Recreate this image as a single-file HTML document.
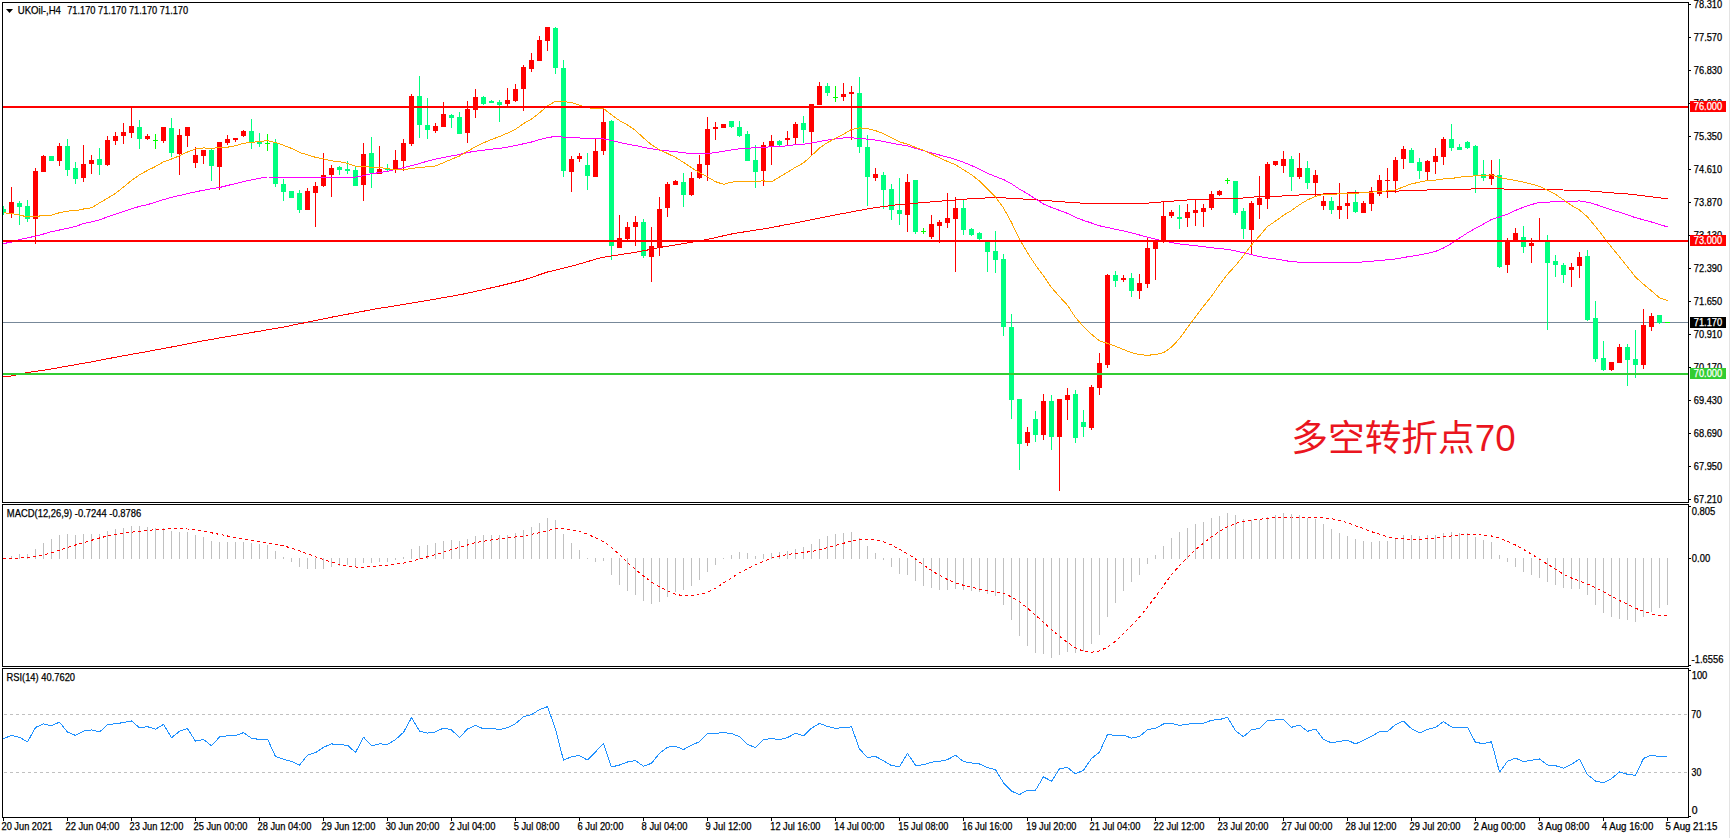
<!DOCTYPE html><html><head><meta charset="utf-8"><title>UKOil H4</title><style>html,body{margin:0;padding:0;background:#fff;overflow:hidden}svg{display:block}</style></head><body><svg width="1731" height="838" viewBox="0 0 1731 838" shape-rendering="crispEdges"><rect x="0" y="0" width="1731" height="838" fill="#fff"/><rect x="1729" y="0" width="1" height="838" fill="#e3e3e3"/><defs><clipPath id="cm"><rect x="3" y="3" width="1685" height="499"/></clipPath><clipPath id="cd"><rect x="3" y="505" width="1685" height="161"/></clipPath><clipPath id="cr"><rect x="3" y="669" width="1685" height="148"/></clipPath></defs><g clip-path="url(#cm)"><rect x="3" y="322" width="1685" height="1" fill="#778899"/><rect x="3" y="206" width="1" height="9" fill="#00ff7f"/><rect x="1" y="209" width="5" height="4" fill="#00ff7f"/><rect x="11" y="187" width="1" height="31" fill="#ff0000"/><rect x="9" y="202" width="5" height="11" fill="#ff0000"/><rect x="19" y="201" width="1" height="24" fill="#00ff7f"/><rect x="17" y="203" width="5" height="4" fill="#00ff7f"/><rect x="27" y="200" width="1" height="22" fill="#00ff7f"/><rect x="25" y="206" width="5" height="13" fill="#00ff7f"/><rect x="35" y="168" width="1" height="76" fill="#ff0000"/><rect x="33" y="171" width="5" height="48" fill="#ff0000"/><rect x="43" y="155" width="1" height="17" fill="#ff0000"/><rect x="41" y="156" width="5" height="16" fill="#ff0000"/><rect x="51" y="156" width="1" height="5" fill="#00ff7f"/><rect x="49" y="156" width="5" height="5" fill="#00ff7f"/><rect x="59" y="143" width="1" height="23" fill="#ff0000"/><rect x="57" y="146" width="5" height="15" fill="#ff0000"/><rect x="67" y="139" width="1" height="37" fill="#00ff7f"/><rect x="65" y="146" width="5" height="24" fill="#00ff7f"/><rect x="75" y="162" width="1" height="22" fill="#00ff7f"/><rect x="73" y="168" width="5" height="11" fill="#00ff7f"/><rect x="83" y="145" width="1" height="37" fill="#ff0000"/><rect x="81" y="164" width="5" height="14" fill="#ff0000"/><rect x="91" y="155" width="1" height="19" fill="#ff0000"/><rect x="89" y="160" width="5" height="4" fill="#ff0000"/><rect x="99" y="148" width="1" height="27" fill="#00ff7f"/><rect x="97" y="159" width="5" height="6" fill="#00ff7f"/><rect x="107" y="136" width="1" height="30" fill="#ff0000"/><rect x="105" y="140" width="5" height="25" fill="#ff0000"/><rect x="115" y="132" width="1" height="13" fill="#ff0000"/><rect x="113" y="136" width="5" height="5" fill="#ff0000"/><rect x="123" y="123" width="1" height="21" fill="#ff0000"/><rect x="121" y="132" width="5" height="4" fill="#ff0000"/><rect x="131" y="107" width="1" height="31" fill="#ff0000"/><rect x="129" y="126" width="5" height="7" fill="#ff0000"/><rect x="139" y="120" width="1" height="29" fill="#00ff7f"/><rect x="137" y="127" width="5" height="12" fill="#00ff7f"/><rect x="147" y="134" width="1" height="6" fill="#ff0000"/><rect x="145" y="136" width="5" height="3" fill="#ff0000"/><rect x="155" y="134" width="1" height="15" fill="#00ff00"/><rect x="153" y="140" width="5" height="1" fill="#00ff00"/><rect x="163" y="127" width="1" height="16" fill="#ff0000"/><rect x="161" y="127" width="5" height="14" fill="#ff0000"/><rect x="171" y="118" width="1" height="39" fill="#00ff7f"/><rect x="169" y="128" width="5" height="25" fill="#00ff7f"/><rect x="179" y="129" width="1" height="46" fill="#ff0000"/><rect x="177" y="135" width="5" height="19" fill="#ff0000"/><rect x="187" y="127" width="1" height="20" fill="#ff0000"/><rect x="185" y="127" width="5" height="9" fill="#ff0000"/><rect x="195" y="147" width="1" height="21" fill="#ff0000"/><rect x="193" y="155" width="5" height="8" fill="#ff0000"/><rect x="203" y="150" width="1" height="14" fill="#ff0000"/><rect x="201" y="150" width="5" height="6" fill="#ff0000"/><rect x="211" y="149" width="1" height="32" fill="#00ff7f"/><rect x="209" y="150" width="5" height="16" fill="#00ff7f"/><rect x="219" y="142" width="1" height="48" fill="#ff0000"/><rect x="217" y="142" width="5" height="25" fill="#ff0000"/><rect x="227" y="135" width="1" height="10" fill="#ff0000"/><rect x="225" y="139" width="5" height="4" fill="#ff0000"/><rect x="235" y="138" width="1" height="4" fill="#ff0000"/><rect x="233" y="138" width="5" height="2" fill="#ff0000"/><rect x="243" y="130" width="1" height="7" fill="#ff0000"/><rect x="241" y="131" width="5" height="5" fill="#ff0000"/><rect x="251" y="119" width="1" height="30" fill="#00ff7f"/><rect x="249" y="131" width="5" height="11" fill="#00ff7f"/><rect x="259" y="133" width="1" height="14" fill="#00ff7f"/><rect x="257" y="142" width="5" height="2" fill="#00ff7f"/><rect x="267" y="134" width="1" height="17" fill="#00ff00"/><rect x="265" y="143" width="5" height="1" fill="#00ff00"/><rect x="275" y="139" width="1" height="48" fill="#00ff7f"/><rect x="273" y="143" width="5" height="41" fill="#00ff7f"/><rect x="283" y="179" width="1" height="22" fill="#00ff7f"/><rect x="281" y="184" width="5" height="8" fill="#00ff7f"/><rect x="291" y="191" width="1" height="7" fill="#00ff7f"/><rect x="289" y="191" width="5" height="7" fill="#00ff7f"/><rect x="299" y="190" width="1" height="23" fill="#00ff7f"/><rect x="297" y="193" width="5" height="17" fill="#00ff7f"/><rect x="307" y="188" width="1" height="22" fill="#ff0000"/><rect x="305" y="191" width="5" height="19" fill="#ff0000"/><rect x="315" y="182" width="1" height="45" fill="#ff0000"/><rect x="313" y="186" width="5" height="7" fill="#ff0000"/><rect x="323" y="153" width="1" height="34" fill="#ff0000"/><rect x="321" y="175" width="5" height="11" fill="#ff0000"/><rect x="331" y="165" width="1" height="32" fill="#ff0000"/><rect x="329" y="168" width="5" height="7" fill="#ff0000"/><rect x="339" y="166" width="1" height="9" fill="#00ff7f"/><rect x="337" y="167" width="5" height="3" fill="#00ff7f"/><rect x="347" y="161" width="1" height="13" fill="#00ff7f"/><rect x="345" y="169" width="5" height="2" fill="#00ff7f"/><rect x="355" y="166" width="1" height="20" fill="#00ff7f"/><rect x="353" y="170" width="5" height="16" fill="#00ff7f"/><rect x="363" y="143" width="1" height="58" fill="#ff0000"/><rect x="361" y="154" width="5" height="31" fill="#ff0000"/><rect x="371" y="137" width="1" height="51" fill="#00ff7f"/><rect x="369" y="153" width="5" height="20" fill="#00ff7f"/><rect x="379" y="146" width="1" height="28" fill="#ff0000"/><rect x="377" y="169" width="5" height="5" fill="#ff0000"/><rect x="387" y="164" width="1" height="7" fill="#00ff7f"/><rect x="385" y="168" width="5" height="2" fill="#00ff7f"/><rect x="395" y="150" width="1" height="23" fill="#ff0000"/><rect x="393" y="160" width="5" height="9" fill="#ff0000"/><rect x="403" y="139" width="1" height="32" fill="#ff0000"/><rect x="401" y="143" width="5" height="18" fill="#ff0000"/><rect x="411" y="94" width="1" height="52" fill="#ff0000"/><rect x="409" y="96" width="5" height="48" fill="#ff0000"/><rect x="419" y="76" width="1" height="62" fill="#00ff7f"/><rect x="417" y="96" width="5" height="29" fill="#00ff7f"/><rect x="427" y="98" width="1" height="41" fill="#00ff7f"/><rect x="425" y="125" width="5" height="5" fill="#00ff7f"/><rect x="435" y="123" width="1" height="10" fill="#ff0000"/><rect x="433" y="126" width="5" height="5" fill="#ff0000"/><rect x="443" y="102" width="1" height="25" fill="#ff0000"/><rect x="441" y="114" width="5" height="13" fill="#ff0000"/><rect x="451" y="114" width="1" height="14" fill="#00ff7f"/><rect x="449" y="115" width="5" height="3" fill="#00ff7f"/><rect x="459" y="112" width="1" height="22" fill="#00ff7f"/><rect x="457" y="117" width="5" height="17" fill="#00ff7f"/><rect x="467" y="101" width="1" height="42" fill="#ff0000"/><rect x="465" y="109" width="5" height="24" fill="#ff0000"/><rect x="475" y="89" width="1" height="29" fill="#ff0000"/><rect x="473" y="97" width="5" height="13" fill="#ff0000"/><rect x="483" y="96" width="1" height="9" fill="#00ff7f"/><rect x="481" y="97" width="5" height="7" fill="#00ff7f"/><rect x="491" y="100" width="1" height="3" fill="#00ff7f"/><rect x="489" y="101" width="5" height="2" fill="#00ff7f"/><rect x="499" y="100" width="1" height="22" fill="#00ff7f"/><rect x="497" y="102" width="5" height="3" fill="#00ff7f"/><rect x="507" y="88" width="1" height="18" fill="#ff0000"/><rect x="505" y="100" width="5" height="4" fill="#ff0000"/><rect x="515" y="84" width="1" height="18" fill="#ff0000"/><rect x="513" y="89" width="5" height="12" fill="#ff0000"/><rect x="523" y="65" width="1" height="46" fill="#ff0000"/><rect x="521" y="67" width="5" height="22" fill="#ff0000"/><rect x="531" y="53" width="1" height="19" fill="#ff0000"/><rect x="529" y="60" width="5" height="9" fill="#ff0000"/><rect x="539" y="36" width="1" height="25" fill="#ff0000"/><rect x="537" y="40" width="5" height="21" fill="#ff0000"/><rect x="547" y="27" width="1" height="24" fill="#ff0000"/><rect x="545" y="27" width="5" height="14" fill="#ff0000"/><rect x="555" y="27" width="1" height="47" fill="#00ff7f"/><rect x="553" y="28" width="5" height="40" fill="#00ff7f"/><rect x="563" y="60" width="1" height="117" fill="#00ff7f"/><rect x="561" y="68" width="5" height="103" fill="#00ff7f"/><rect x="571" y="156" width="1" height="36" fill="#ff0000"/><rect x="569" y="159" width="5" height="13" fill="#ff0000"/><rect x="579" y="153" width="1" height="9" fill="#ff0000"/><rect x="577" y="156" width="5" height="3" fill="#ff0000"/><rect x="587" y="153" width="1" height="37" fill="#00ff7f"/><rect x="585" y="165" width="5" height="11" fill="#00ff7f"/><rect x="595" y="139" width="1" height="38" fill="#ff0000"/><rect x="593" y="151" width="5" height="26" fill="#ff0000"/><rect x="603" y="108" width="1" height="47" fill="#ff0000"/><rect x="601" y="122" width="5" height="29" fill="#ff0000"/><rect x="611" y="120" width="1" height="140" fill="#00ff7f"/><rect x="609" y="121" width="5" height="125" fill="#00ff7f"/><rect x="619" y="215" width="1" height="33" fill="#ff0000"/><rect x="617" y="238" width="5" height="10" fill="#ff0000"/><rect x="627" y="222" width="1" height="18" fill="#ff0000"/><rect x="625" y="227" width="5" height="12" fill="#ff0000"/><rect x="635" y="216" width="1" height="30" fill="#ff0000"/><rect x="633" y="222" width="5" height="5" fill="#ff0000"/><rect x="643" y="219" width="1" height="39" fill="#00ff7f"/><rect x="641" y="222" width="5" height="34" fill="#00ff7f"/><rect x="651" y="227" width="1" height="55" fill="#ff0000"/><rect x="649" y="246" width="5" height="11" fill="#ff0000"/><rect x="659" y="197" width="1" height="59" fill="#ff0000"/><rect x="657" y="209" width="5" height="38" fill="#ff0000"/><rect x="667" y="182" width="1" height="35" fill="#ff0000"/><rect x="665" y="184" width="5" height="24" fill="#ff0000"/><rect x="675" y="180" width="1" height="5" fill="#ff0000"/><rect x="673" y="181" width="5" height="4" fill="#ff0000"/><rect x="683" y="173" width="1" height="34" fill="#00ff7f"/><rect x="681" y="182" width="5" height="13" fill="#00ff7f"/><rect x="691" y="172" width="1" height="24" fill="#ff0000"/><rect x="689" y="178" width="5" height="17" fill="#ff0000"/><rect x="699" y="155" width="1" height="24" fill="#ff0000"/><rect x="697" y="164" width="5" height="14" fill="#ff0000"/><rect x="707" y="117" width="1" height="64" fill="#ff0000"/><rect x="705" y="129" width="5" height="36" fill="#ff0000"/><rect x="715" y="122" width="1" height="18" fill="#ff0000"/><rect x="713" y="127" width="5" height="2" fill="#ff0000"/><rect x="723" y="124" width="1" height="4" fill="#ff0000"/><rect x="721" y="124" width="5" height="4" fill="#ff0000"/><rect x="731" y="121" width="1" height="7" fill="#00ff7f"/><rect x="729" y="121" width="5" height="6" fill="#00ff7f"/><rect x="739" y="121" width="1" height="16" fill="#00ff7f"/><rect x="737" y="127" width="5" height="9" fill="#00ff7f"/><rect x="747" y="131" width="1" height="30" fill="#00ff7f"/><rect x="745" y="134" width="5" height="27" fill="#00ff7f"/><rect x="755" y="145" width="1" height="43" fill="#00ff7f"/><rect x="753" y="160" width="5" height="12" fill="#00ff7f"/><rect x="763" y="142" width="1" height="44" fill="#ff0000"/><rect x="761" y="145" width="5" height="26" fill="#ff0000"/><rect x="771" y="135" width="1" height="30" fill="#ff0000"/><rect x="769" y="141" width="5" height="5" fill="#ff0000"/><rect x="779" y="140" width="1" height="6" fill="#00ff7f"/><rect x="777" y="141" width="5" height="4" fill="#00ff7f"/><rect x="787" y="131" width="1" height="14" fill="#ff0000"/><rect x="785" y="138" width="5" height="2" fill="#ff0000"/><rect x="795" y="122" width="1" height="22" fill="#ff0000"/><rect x="793" y="124" width="5" height="14" fill="#ff0000"/><rect x="803" y="116" width="1" height="27" fill="#00ff7f"/><rect x="801" y="123" width="5" height="7" fill="#00ff7f"/><rect x="811" y="104" width="1" height="52" fill="#ff0000"/><rect x="809" y="104" width="5" height="28" fill="#ff0000"/><rect x="819" y="82" width="1" height="23" fill="#ff0000"/><rect x="817" y="86" width="5" height="19" fill="#ff0000"/><rect x="827" y="83" width="1" height="13" fill="#00ff7f"/><rect x="825" y="86" width="5" height="7" fill="#00ff7f"/><rect x="835" y="86" width="1" height="16" fill="#00ff00"/><rect x="833" y="97" width="5" height="1" fill="#00ff00"/><rect x="843" y="83" width="1" height="18" fill="#ff0000"/><rect x="841" y="94" width="5" height="3" fill="#ff0000"/><rect x="851" y="86" width="1" height="54" fill="#ff0000"/><rect x="849" y="92" width="5" height="2" fill="#ff0000"/><rect x="859" y="77" width="1" height="76" fill="#00ff7f"/><rect x="857" y="93" width="5" height="54" fill="#00ff7f"/><rect x="867" y="135" width="1" height="71" fill="#00ff7f"/><rect x="865" y="147" width="5" height="30" fill="#00ff7f"/><rect x="875" y="168" width="1" height="13" fill="#ff0000"/><rect x="873" y="174" width="5" height="4" fill="#ff0000"/><rect x="883" y="172" width="1" height="37" fill="#00ff7f"/><rect x="881" y="175" width="5" height="15" fill="#00ff7f"/><rect x="891" y="184" width="1" height="36" fill="#00ff7f"/><rect x="889" y="189" width="5" height="21" fill="#00ff7f"/><rect x="899" y="178" width="1" height="47" fill="#00ff7f"/><rect x="897" y="210" width="5" height="4" fill="#00ff7f"/><rect x="907" y="174" width="1" height="58" fill="#ff0000"/><rect x="905" y="182" width="5" height="33" fill="#ff0000"/><rect x="915" y="180" width="1" height="54" fill="#00ff7f"/><rect x="913" y="180" width="5" height="52" fill="#00ff7f"/><rect x="923" y="228" width="1" height="6" fill="#00ff00"/><rect x="921" y="231" width="5" height="1" fill="#00ff00"/><rect x="931" y="215" width="1" height="24" fill="#ff0000"/><rect x="929" y="224" width="5" height="13" fill="#ff0000"/><rect x="939" y="220" width="1" height="23" fill="#ff0000"/><rect x="937" y="222" width="5" height="4" fill="#ff0000"/><rect x="947" y="193" width="1" height="35" fill="#ff0000"/><rect x="945" y="218" width="5" height="5" fill="#ff0000"/><rect x="955" y="197" width="1" height="75" fill="#ff0000"/><rect x="953" y="208" width="5" height="11" fill="#ff0000"/><rect x="963" y="200" width="1" height="35" fill="#00ff7f"/><rect x="961" y="208" width="5" height="22" fill="#00ff7f"/><rect x="971" y="228" width="1" height="8" fill="#00ff7f"/><rect x="969" y="229" width="5" height="6" fill="#00ff7f"/><rect x="979" y="232" width="1" height="10" fill="#00ff7f"/><rect x="977" y="233" width="5" height="6" fill="#00ff7f"/><rect x="987" y="242" width="1" height="30" fill="#00ff7f"/><rect x="985" y="242" width="5" height="10" fill="#00ff7f"/><rect x="995" y="231" width="1" height="42" fill="#00ff7f"/><rect x="993" y="251" width="5" height="9" fill="#00ff7f"/><rect x="1003" y="254" width="1" height="82" fill="#00ff7f"/><rect x="1001" y="259" width="5" height="68" fill="#00ff7f"/><rect x="1011" y="314" width="1" height="105" fill="#00ff7f"/><rect x="1009" y="327" width="5" height="73" fill="#00ff7f"/><rect x="1019" y="399" width="1" height="71" fill="#00ff7f"/><rect x="1017" y="399" width="5" height="45" fill="#00ff7f"/><rect x="1027" y="427" width="1" height="19" fill="#ff0000"/><rect x="1025" y="432" width="5" height="11" fill="#ff0000"/><rect x="1035" y="411" width="1" height="31" fill="#00ff7f"/><rect x="1033" y="419" width="5" height="16" fill="#00ff7f"/><rect x="1043" y="394" width="1" height="46" fill="#ff0000"/><rect x="1041" y="401" width="5" height="34" fill="#ff0000"/><rect x="1051" y="395" width="1" height="55" fill="#00ff7f"/><rect x="1049" y="401" width="5" height="36" fill="#00ff7f"/><rect x="1059" y="399" width="1" height="92" fill="#ff0000"/><rect x="1057" y="399" width="5" height="38" fill="#ff0000"/><rect x="1067" y="388" width="1" height="32" fill="#ff0000"/><rect x="1065" y="395" width="5" height="5" fill="#ff0000"/><rect x="1075" y="390" width="1" height="53" fill="#00ff7f"/><rect x="1073" y="394" width="5" height="44" fill="#00ff7f"/><rect x="1083" y="410" width="1" height="27" fill="#00ff7f"/><rect x="1081" y="422" width="5" height="5" fill="#00ff7f"/><rect x="1091" y="385" width="1" height="45" fill="#ff0000"/><rect x="1089" y="387" width="5" height="41" fill="#ff0000"/><rect x="1099" y="353" width="1" height="42" fill="#ff0000"/><rect x="1097" y="363" width="5" height="25" fill="#ff0000"/><rect x="1107" y="274" width="1" height="94" fill="#ff0000"/><rect x="1105" y="275" width="5" height="90" fill="#ff0000"/><rect x="1115" y="271" width="1" height="16" fill="#00ff7f"/><rect x="1113" y="275" width="5" height="6" fill="#00ff7f"/><rect x="1123" y="275" width="1" height="7" fill="#ff0000"/><rect x="1121" y="278" width="5" height="2" fill="#ff0000"/><rect x="1131" y="273" width="1" height="24" fill="#00ff7f"/><rect x="1129" y="278" width="5" height="13" fill="#00ff7f"/><rect x="1139" y="274" width="1" height="25" fill="#ff0000"/><rect x="1137" y="283" width="5" height="8" fill="#ff0000"/><rect x="1147" y="238" width="1" height="50" fill="#ff0000"/><rect x="1145" y="248" width="5" height="36" fill="#ff0000"/><rect x="1155" y="241" width="1" height="39" fill="#ff0000"/><rect x="1153" y="241" width="5" height="8" fill="#ff0000"/><rect x="1163" y="202" width="1" height="41" fill="#ff0000"/><rect x="1161" y="216" width="5" height="25" fill="#ff0000"/><rect x="1171" y="210" width="1" height="8" fill="#ff0000"/><rect x="1169" y="212" width="5" height="4" fill="#ff0000"/><rect x="1179" y="205" width="1" height="24" fill="#00ff7f"/><rect x="1177" y="217" width="5" height="2" fill="#00ff7f"/><rect x="1187" y="204" width="1" height="23" fill="#ff0000"/><rect x="1185" y="212" width="5" height="6" fill="#ff0000"/><rect x="1195" y="199" width="1" height="27" fill="#ff0000"/><rect x="1193" y="210" width="5" height="3" fill="#ff0000"/><rect x="1203" y="204" width="1" height="23" fill="#ff0000"/><rect x="1201" y="208" width="5" height="4" fill="#ff0000"/><rect x="1211" y="191" width="1" height="19" fill="#ff0000"/><rect x="1209" y="194" width="5" height="14" fill="#ff0000"/><rect x="1219" y="190" width="1" height="6" fill="#ff0000"/><rect x="1217" y="191" width="5" height="4" fill="#ff0000"/><rect x="1227" y="178" width="1" height="6" fill="#00ff00"/><rect x="1225" y="180" width="5" height="1" fill="#00ff00"/><rect x="1235" y="181" width="1" height="34" fill="#00ff7f"/><rect x="1233" y="181" width="5" height="32" fill="#00ff7f"/><rect x="1243" y="208" width="1" height="31" fill="#00ff7f"/><rect x="1241" y="211" width="5" height="18" fill="#00ff7f"/><rect x="1251" y="201" width="1" height="53" fill="#ff0000"/><rect x="1249" y="203" width="5" height="27" fill="#ff0000"/><rect x="1259" y="176" width="1" height="43" fill="#ff0000"/><rect x="1257" y="198" width="5" height="7" fill="#ff0000"/><rect x="1267" y="162" width="1" height="47" fill="#ff0000"/><rect x="1265" y="164" width="5" height="35" fill="#ff0000"/><rect x="1275" y="161" width="1" height="5" fill="#ff0000"/><rect x="1273" y="161" width="5" height="4" fill="#ff0000"/><rect x="1283" y="151" width="1" height="22" fill="#ff0000"/><rect x="1281" y="159" width="5" height="7" fill="#ff0000"/><rect x="1291" y="156" width="1" height="35" fill="#00ff7f"/><rect x="1289" y="159" width="5" height="18" fill="#00ff7f"/><rect x="1299" y="153" width="1" height="26" fill="#ff0000"/><rect x="1297" y="168" width="5" height="9" fill="#ff0000"/><rect x="1307" y="161" width="1" height="28" fill="#00ff7f"/><rect x="1305" y="168" width="5" height="15" fill="#00ff7f"/><rect x="1315" y="170" width="1" height="26" fill="#ff0000"/><rect x="1313" y="175" width="5" height="8" fill="#ff0000"/><rect x="1323" y="196" width="1" height="14" fill="#ff0000"/><rect x="1321" y="201" width="5" height="5" fill="#ff0000"/><rect x="1331" y="197" width="1" height="17" fill="#00ff7f"/><rect x="1329" y="201" width="5" height="9" fill="#00ff7f"/><rect x="1339" y="183" width="1" height="36" fill="#ff0000"/><rect x="1337" y="206" width="5" height="4" fill="#ff0000"/><rect x="1347" y="194" width="1" height="25" fill="#ff0000"/><rect x="1345" y="203" width="5" height="3" fill="#ff0000"/><rect x="1355" y="190" width="1" height="23" fill="#00ff7f"/><rect x="1353" y="202" width="5" height="10" fill="#00ff7f"/><rect x="1363" y="201" width="1" height="12" fill="#ff0000"/><rect x="1361" y="203" width="5" height="10" fill="#ff0000"/><rect x="1371" y="187" width="1" height="24" fill="#ff0000"/><rect x="1369" y="193" width="5" height="11" fill="#ff0000"/><rect x="1379" y="175" width="1" height="21" fill="#ff0000"/><rect x="1377" y="180" width="5" height="14" fill="#ff0000"/><rect x="1387" y="168" width="1" height="30" fill="#ff0000"/><rect x="1385" y="180" width="5" height="1" fill="#ff0000"/><rect x="1395" y="157" width="1" height="36" fill="#ff0000"/><rect x="1393" y="160" width="5" height="21" fill="#ff0000"/><rect x="1403" y="146" width="1" height="23" fill="#ff0000"/><rect x="1401" y="149" width="5" height="10" fill="#ff0000"/><rect x="1411" y="148" width="1" height="15" fill="#00ff7f"/><rect x="1409" y="150" width="5" height="13" fill="#00ff7f"/><rect x="1419" y="158" width="1" height="21" fill="#00ff7f"/><rect x="1417" y="162" width="5" height="9" fill="#00ff7f"/><rect x="1427" y="160" width="1" height="20" fill="#ff0000"/><rect x="1425" y="161" width="5" height="11" fill="#ff0000"/><rect x="1435" y="148" width="1" height="26" fill="#ff0000"/><rect x="1433" y="156" width="5" height="6" fill="#ff0000"/><rect x="1443" y="137" width="1" height="28" fill="#ff0000"/><rect x="1441" y="139" width="5" height="18" fill="#ff0000"/><rect x="1451" y="124" width="1" height="27" fill="#00ff7f"/><rect x="1449" y="139" width="5" height="9" fill="#00ff7f"/><rect x="1459" y="144" width="1" height="6" fill="#00ff7f"/><rect x="1457" y="147" width="5" height="3" fill="#00ff7f"/><rect x="1467" y="141" width="1" height="8" fill="#00ff7f"/><rect x="1465" y="142" width="5" height="6" fill="#00ff7f"/><rect x="1475" y="145" width="1" height="48" fill="#00ff7f"/><rect x="1473" y="146" width="5" height="29" fill="#00ff7f"/><rect x="1483" y="160" width="1" height="21" fill="#00ff7f"/><rect x="1481" y="174" width="5" height="4" fill="#00ff7f"/><rect x="1491" y="160" width="1" height="25" fill="#ff0000"/><rect x="1489" y="174" width="5" height="5" fill="#ff0000"/><rect x="1499" y="159" width="1" height="109" fill="#00ff7f"/><rect x="1497" y="175" width="5" height="92" fill="#00ff7f"/><rect x="1507" y="238" width="1" height="35" fill="#ff0000"/><rect x="1505" y="241" width="5" height="24" fill="#ff0000"/><rect x="1515" y="228" width="1" height="14" fill="#ff0000"/><rect x="1513" y="233" width="5" height="9" fill="#ff0000"/><rect x="1523" y="226" width="1" height="27" fill="#00ff7f"/><rect x="1521" y="237" width="5" height="10" fill="#00ff7f"/><rect x="1531" y="238" width="1" height="25" fill="#ff0000"/><rect x="1529" y="243" width="5" height="3" fill="#ff0000"/><rect x="1539" y="218" width="1" height="24" fill="#ff0000"/><rect x="1537" y="241" width="5" height="1" fill="#ff0000"/><rect x="1547" y="235" width="1" height="95" fill="#00ff7f"/><rect x="1545" y="242" width="5" height="21" fill="#00ff7f"/><rect x="1555" y="255" width="1" height="22" fill="#00ff7f"/><rect x="1553" y="261" width="5" height="4" fill="#00ff7f"/><rect x="1563" y="263" width="1" height="20" fill="#00ff7f"/><rect x="1561" y="265" width="5" height="10" fill="#00ff7f"/><rect x="1571" y="263" width="1" height="24" fill="#ff0000"/><rect x="1569" y="267" width="5" height="3" fill="#ff0000"/><rect x="1579" y="252" width="1" height="26" fill="#ff0000"/><rect x="1577" y="257" width="5" height="9" fill="#ff0000"/><rect x="1587" y="250" width="1" height="71" fill="#00ff7f"/><rect x="1585" y="256" width="5" height="64" fill="#00ff7f"/><rect x="1595" y="301" width="1" height="61" fill="#00ff7f"/><rect x="1593" y="318" width="5" height="41" fill="#00ff7f"/><rect x="1603" y="341" width="1" height="30" fill="#00ff7f"/><rect x="1601" y="358" width="5" height="12" fill="#00ff7f"/><rect x="1611" y="362" width="1" height="9" fill="#ff0000"/><rect x="1609" y="362" width="5" height="8" fill="#ff0000"/><rect x="1619" y="344" width="1" height="19" fill="#ff0000"/><rect x="1617" y="347" width="5" height="16" fill="#ff0000"/><rect x="1627" y="344" width="1" height="42" fill="#00ff7f"/><rect x="1625" y="347" width="5" height="13" fill="#00ff7f"/><rect x="1635" y="330" width="1" height="48" fill="#00ff7f"/><rect x="1633" y="359" width="5" height="6" fill="#00ff7f"/><rect x="1643" y="309" width="1" height="60" fill="#ff0000"/><rect x="1641" y="325" width="5" height="40" fill="#ff0000"/><rect x="1651" y="313" width="1" height="18" fill="#ff0000"/><rect x="1649" y="316" width="5" height="11" fill="#ff0000"/><rect x="1659" y="315" width="1" height="9" fill="#00ff7f"/><rect x="1657" y="315" width="5" height="8" fill="#00ff7f"/><rect x="1665" y="322" width="5" height="1" fill="#00ff00"/></g><g clip-path="url(#cm)"><polyline points="3.5,376.9 11.5,376.0 19.5,374.1 27.5,372.5 35.5,371.4 43.5,370.2 51.5,368.9 59.5,367.5 67.5,366.1 75.5,364.7 83.5,363.3 91.5,361.9 99.5,360.4 107.5,358.8 115.5,357.2 123.5,355.8 131.5,354.3 139.5,352.9 147.5,351.5 155.5,350.0 163.5,348.6 171.5,347.0 179.5,345.5 187.5,343.9 195.5,342.2 203.5,340.8 211.5,339.4 219.5,338.0 227.5,336.6 235.5,335.2 243.5,333.9 251.5,332.5 259.5,331.2 267.5,329.8 275.5,328.4 283.5,327.1 291.5,325.4 299.5,323.8 307.5,322.2 315.5,320.5 323.5,318.9 331.5,317.2 339.5,315.7 347.5,314.2 355.5,312.7 363.5,311.2 371.5,309.7 379.5,308.3 387.5,307.1 395.5,305.8 403.5,304.5 411.5,303.1 419.5,301.8 427.5,300.5 435.5,299.1 443.5,297.6 451.5,296.2 459.5,294.8 467.5,293.2 475.5,291.4 483.5,289.6 491.5,287.8 499.5,286.0 507.5,284.0 515.5,282.0 523.5,280.0 531.5,277.4 539.5,274.7 547.5,272.0 555.5,270.1 563.5,268.1 571.5,266.2 579.5,263.9 587.5,261.6 595.5,259.2 603.5,257.2 611.5,256.0 619.5,254.8 627.5,253.5 635.5,252.3 643.5,250.8 651.5,249.2 659.5,247.5 667.5,246.2 675.5,244.9 683.5,243.6 691.5,242.3 699.5,241.0 707.5,239.4 715.5,237.6 723.5,235.8 731.5,234.0 739.5,232.6 747.5,231.4 755.5,230.1 763.5,228.9 771.5,227.6 779.5,226.0 787.5,224.4 795.5,222.9 803.5,221.3 811.5,219.7 819.5,218.1 827.5,216.5 835.5,214.9 843.5,213.4 851.5,211.9 859.5,210.4 867.5,209.0 875.5,207.6 883.5,206.6 891.5,205.5 899.5,204.5 907.5,203.9 915.5,203.2 923.5,202.6 931.5,201.9 939.5,201.2 947.5,200.6 955.5,200.0 963.5,199.3 971.5,198.7 979.5,198.3 987.5,197.9 995.5,197.9 1003.5,197.9 1011.5,198.2 1019.5,198.8 1027.5,199.3 1035.5,199.8 1043.5,200.4 1051.5,201.0 1059.5,201.6 1067.5,202.2 1075.5,202.7 1083.5,203.3 1091.5,203.7 1099.5,203.8 1107.5,203.8 1115.5,203.9 1123.5,203.9 1131.5,204.0 1139.5,203.8 1147.5,203.2 1155.5,202.4 1163.5,201.8 1171.5,201.2 1179.5,200.6 1187.5,200.0 1195.5,199.5 1203.5,199.2 1211.5,199.0 1219.5,198.8 1227.5,198.9 1235.5,198.8 1243.5,198.0 1251.5,197.1 1259.5,196.8 1267.5,196.7 1275.5,196.6 1283.5,195.9 1291.5,195.3 1299.5,195.0 1307.5,194.7 1315.5,194.4 1323.5,194.0 1331.5,193.7 1339.5,193.3 1347.5,193.0 1355.5,192.6 1363.5,192.2 1371.5,191.9 1379.5,191.7 1387.5,191.4 1395.5,191.2 1403.5,190.8 1411.5,190.5 1419.5,190.2 1427.5,190.0 1435.5,189.7 1443.5,189.5 1451.5,189.4 1459.5,189.2 1467.5,189.1 1475.5,188.9 1483.5,188.7 1491.5,188.6 1499.5,188.8 1507.5,189.2 1515.5,189.7 1523.5,189.7 1531.5,189.8 1539.5,189.8 1547.5,189.8 1555.5,189.9 1563.5,190.0 1571.5,190.2 1579.5,190.4 1587.5,190.8 1595.5,191.5 1603.5,192.1 1611.5,192.8 1619.5,193.4 1627.5,194.0 1635.5,194.8 1643.5,195.8 1651.5,196.8 1659.5,197.8 1667.5,198.8" fill="none" stroke="#ff0000" stroke-width="1" stroke-linejoin="bevel" /><polyline points="3.5,243.5 11.5,242.2 19.5,239.6 27.5,237.9 35.5,236.1 43.5,234.0 51.5,231.7 59.5,230.0 67.5,228.4 75.5,226.5 83.5,223.5 91.5,221.9 99.5,219.9 107.5,216.9 115.5,214.3 123.5,211.4 131.5,208.8 139.5,206.4 147.5,204.6 155.5,202.2 163.5,199.6 171.5,197.4 179.5,195.5 187.5,193.7 195.5,191.8 203.5,190.2 211.5,188.8 219.5,187.5 227.5,185.5 235.5,183.6 243.5,181.6 251.5,179.9 259.5,178.3 267.5,177.0 275.5,177.1 283.5,177.1 291.5,177.2 299.5,177.5 307.5,177.9 315.5,177.9 323.5,177.9 331.5,177.9 339.5,177.7 347.5,177.4 355.5,177.1 363.5,175.7 371.5,173.7 379.5,172.6 387.5,171.3 395.5,169.5 403.5,167.7 411.5,165.7 419.5,163.5 427.5,161.1 435.5,159.2 443.5,157.4 451.5,155.9 459.5,154.5 467.5,152.5 475.5,151.2 483.5,150.2 491.5,149.2 499.5,148.4 507.5,147.2 515.5,145.5 523.5,143.8 531.5,142.0 539.5,139.7 547.5,137.6 555.5,136.4 563.5,137.1 571.5,137.7 579.5,138.0 587.5,138.7 595.5,138.9 603.5,138.9 611.5,140.5 619.5,142.4 627.5,144.2 635.5,145.5 643.5,147.4 651.5,148.8 659.5,150.1 667.5,150.9 675.5,151.7 683.5,152.8 691.5,153.5 699.5,153.8 707.5,153.6 715.5,152.5 723.5,151.3 731.5,150.0 739.5,148.7 747.5,148.1 755.5,147.9 763.5,147.3 771.5,146.8 779.5,146.4 787.5,145.8 795.5,144.7 803.5,144.2 811.5,143.0 819.5,141.5 827.5,140.1 835.5,138.9 843.5,138.0 851.5,137.9 859.5,138.3 867.5,139.2 875.5,140.1 883.5,141.5 891.5,143.1 899.5,144.6 907.5,145.9 915.5,148.4 923.5,150.7 931.5,152.9 939.5,155.0 947.5,157.2 955.5,159.3 963.5,162.3 971.5,165.5 979.5,169.1 987.5,173.2 995.5,176.6 1003.5,179.5 1011.5,183.8 1019.5,189.1 1027.5,193.7 1035.5,198.9 1043.5,204.0 1051.5,207.4 1059.5,210.4 1067.5,213.4 1075.5,217.3 1083.5,220.4 1091.5,223.0 1099.5,225.8 1107.5,227.5 1115.5,229.3 1123.5,230.8 1131.5,232.8 1139.5,235.0 1147.5,237.2 1155.5,239.2 1163.5,240.9 1171.5,242.5 1179.5,244.0 1187.5,244.9 1195.5,245.6 1203.5,246.7 1211.5,247.7 1219.5,248.6 1227.5,249.3 1235.5,250.9 1243.5,252.7 1251.5,254.5 1259.5,256.6 1267.5,257.9 1275.5,259.0 1283.5,260.2 1291.5,261.8 1299.5,262.1 1307.5,262.3 1315.5,262.3 1323.5,262.5 1331.5,262.5 1339.5,262.3 1347.5,262.7 1355.5,262.4 1363.5,261.9 1371.5,261.3 1379.5,260.5 1387.5,259.8 1395.5,259.0 1403.5,257.5 1411.5,256.2 1419.5,255.0 1427.5,253.3 1435.5,251.4 1443.5,248.0 1451.5,243.4 1459.5,238.1 1467.5,232.9 1475.5,228.2 1483.5,224.1 1491.5,219.4 1499.5,217.0 1507.5,214.2 1515.5,210.4 1523.5,207.2 1531.5,204.6 1539.5,202.3 1547.5,202.1 1555.5,201.8 1563.5,201.8 1571.5,201.4 1579.5,200.9 1587.5,202.2 1595.5,204.3 1603.5,207.1 1611.5,209.9 1619.5,212.2 1627.5,214.9 1635.5,217.7 1643.5,219.8 1651.5,222.0 1659.5,224.4 1667.5,227.0" fill="none" stroke="#ff00ff" stroke-width="1" stroke-linejoin="bevel" /><polyline points="3.5,212.7 11.5,213.6 19.5,215.1 27.5,216.9 35.5,216.9 43.5,215.1 51.5,215.1 59.5,212.7 67.5,211.1 75.5,210.7 83.5,209.0 91.5,207.8 99.5,202.9 107.5,198.3 115.5,193.3 123.5,187.1 131.5,180.5 139.5,174.9 147.5,170.4 155.5,166.5 163.5,161.8 171.5,159.0 179.5,155.8 187.5,152.0 195.5,148.9 203.5,147.9 211.5,148.4 219.5,147.5 227.5,147.2 235.5,145.7 243.5,143.4 251.5,142.3 259.5,141.6 267.5,140.6 275.5,142.6 283.5,145.3 291.5,148.4 299.5,152.4 307.5,154.9 315.5,157.3 323.5,158.9 331.5,160.9 339.5,161.7 347.5,163.4 355.5,166.2 363.5,166.2 371.5,167.3 379.5,167.4 387.5,168.7 395.5,169.7 403.5,170.0 411.5,168.4 419.5,167.5 427.5,166.8 435.5,166.0 443.5,162.7 451.5,159.2 459.5,156.1 467.5,151.3 475.5,146.8 483.5,142.9 491.5,139.5 499.5,136.5 507.5,133.1 515.5,129.3 523.5,123.6 531.5,119.1 539.5,112.8 547.5,106.0 555.5,101.2 563.5,101.7 571.5,102.4 579.5,105.3 587.5,107.7 595.5,108.7 603.5,108.5 611.5,114.8 619.5,120.6 627.5,125.0 635.5,130.4 643.5,138.0 651.5,144.7 659.5,149.8 667.5,153.5 675.5,157.4 683.5,162.4 691.5,167.7 699.5,172.7 707.5,176.9 715.5,181.7 723.5,184.3 731.5,182.2 739.5,181.1 747.5,181.4 755.5,181.2 763.5,180.9 771.5,181.8 779.5,177.0 787.5,172.2 795.5,167.3 803.5,162.9 811.5,155.7 819.5,148.1 827.5,142.5 835.5,138.4 843.5,134.3 851.5,129.4 859.5,127.9 867.5,128.5 875.5,130.6 883.5,133.6 891.5,137.7 899.5,141.9 907.5,144.1 915.5,147.4 923.5,150.3 931.5,154.0 939.5,157.9 947.5,161.4 955.5,164.7 963.5,169.8 971.5,174.7 979.5,181.1 987.5,189.0 995.5,197.0 1003.5,207.9 1011.5,222.5 1019.5,239.2 1027.5,252.8 1035.5,265.1 1043.5,275.9 1051.5,287.6 1059.5,296.6 1067.5,305.3 1075.5,317.5 1083.5,326.7 1091.5,334.2 1099.5,340.8 1107.5,343.3 1115.5,346.3 1123.5,349.6 1131.5,352.5 1139.5,354.8 1147.5,355.2 1155.5,354.7 1163.5,352.7 1171.5,347.2 1179.5,338.6 1187.5,327.6 1195.5,317.0 1203.5,306.2 1211.5,296.4 1219.5,284.7 1227.5,274.3 1235.5,265.6 1243.5,255.6 1251.5,245.0 1259.5,236.0 1267.5,226.5 1275.5,221.1 1283.5,215.3 1291.5,210.5 1299.5,204.7 1307.5,199.9 1315.5,196.4 1323.5,194.5 1331.5,194.2 1339.5,193.9 1347.5,193.2 1355.5,193.2 1363.5,192.8 1371.5,192.1 1379.5,191.5 1387.5,190.9 1395.5,189.9 1403.5,186.9 1411.5,183.8 1419.5,182.2 1427.5,180.5 1435.5,180.1 1443.5,179.0 1451.5,178.5 1459.5,177.2 1467.5,176.2 1475.5,175.9 1483.5,176.0 1491.5,174.7 1499.5,177.4 1507.5,179.1 1515.5,180.5 1523.5,182.2 1531.5,184.1 1539.5,186.4 1547.5,190.3 1555.5,194.4 1563.5,199.8 1571.5,205.5 1579.5,210.0 1587.5,217.0 1595.5,226.5 1603.5,236.7 1611.5,247.3 1619.5,256.8 1627.5,266.8 1635.5,277.1 1643.5,284.3 1651.5,290.9 1659.5,297.9 1667.5,300.6" fill="none" stroke="#ffa500" stroke-width="1" stroke-linejoin="bevel" /></g><g clip-path="url(#cm)"><rect x="3" y="106" width="1686" height="2" fill="#ff0000"/><rect x="3" y="240" width="1686" height="2" fill="#ff0000"/><rect x="3" y="373" width="1686" height="2" fill="#32cd32"/></g><text x="1291.3" y="451" font-size="36.7" fill="#ea1520" font-family='"Liberation Sans", "Noto Sans CJK SC", sans-serif'>多空转折点70</text><rect x="2" y="2" width="1687" height="1" fill="#000"/><rect x="2" y="502" width="1687" height="1" fill="#000"/><rect x="2" y="2" width="1" height="501" fill="#000"/><rect x="1688" y="2" width="1" height="501" fill="#000"/><rect x="2" y="504" width="1687" height="1" fill="#000"/><rect x="2" y="666" width="1687" height="1" fill="#000"/><rect x="2" y="504" width="1" height="163" fill="#000"/><rect x="1688" y="504" width="1" height="163" fill="#000"/><rect x="2" y="668" width="1687" height="1" fill="#000"/><rect x="2" y="817" width="1687" height="1" fill="#000"/><rect x="2" y="668" width="1" height="150" fill="#000"/><rect x="1688" y="668" width="1" height="150" fill="#000"/><path d="M6,9 h7 l-3.5,4 z" fill="#000" shape-rendering="geometricPrecision"/><text x="17.76" y="14" textLength="43.22" lengthAdjust="spacingAndGlyphs" fill="#000" stroke="#000" stroke-width="0.25" font-size="10.1" font-family='"Liberation Sans", sans-serif'>UKOil-,H4</text><text x="67.13" y="14" textLength="121.04" lengthAdjust="spacingAndGlyphs" fill="#000" stroke="#000" stroke-width="0.25" font-size="10.1" font-family='"Liberation Sans", sans-serif'>71.170 71.170 71.170 71.170</text><text x="6.83" y="517" textLength="134.39" lengthAdjust="spacingAndGlyphs" fill="#000" stroke="#000" stroke-width="0.25" font-size="10.1" font-family='"Liberation Sans", sans-serif'>MACD(12,26,9) -0.7244 -0.8786</text><text x="6.43" y="681" textLength="68.63" lengthAdjust="spacingAndGlyphs" fill="#000" stroke="#000" stroke-width="0.25" font-size="10.1" font-family='"Liberation Sans", sans-serif'>RSI(14) 40.7620</text><rect x="1689" y="4" width="2" height="1" fill="#000"/><text x="1693.83" y="8" textLength="28.34" lengthAdjust="spacingAndGlyphs" fill="#000" stroke="#000" stroke-width="0.25" font-size="10.1" font-family='"Liberation Sans", sans-serif'>78.310</text><rect x="1689" y="37" width="2" height="1" fill="#000"/><text x="1693.83" y="41" textLength="28.34" lengthAdjust="spacingAndGlyphs" fill="#000" stroke="#000" stroke-width="0.25" font-size="10.1" font-family='"Liberation Sans", sans-serif'>77.570</text><rect x="1689" y="70" width="2" height="1" fill="#000"/><text x="1693.83" y="74" textLength="28.34" lengthAdjust="spacingAndGlyphs" fill="#000" stroke="#000" stroke-width="0.25" font-size="10.1" font-family='"Liberation Sans", sans-serif'>76.830</text><rect x="1689" y="103" width="2" height="1" fill="#000"/><text x="1693.83" y="107" textLength="28.34" lengthAdjust="spacingAndGlyphs" fill="#000" stroke="#000" stroke-width="0.25" font-size="10.1" font-family='"Liberation Sans", sans-serif'>76.090</text><rect x="1689" y="136" width="2" height="1" fill="#000"/><text x="1693.83" y="140" textLength="28.34" lengthAdjust="spacingAndGlyphs" fill="#000" stroke="#000" stroke-width="0.25" font-size="10.1" font-family='"Liberation Sans", sans-serif'>75.350</text><rect x="1689" y="169" width="2" height="1" fill="#000"/><text x="1693.83" y="173" textLength="28.34" lengthAdjust="spacingAndGlyphs" fill="#000" stroke="#000" stroke-width="0.25" font-size="10.1" font-family='"Liberation Sans", sans-serif'>74.610</text><rect x="1689" y="202" width="2" height="1" fill="#000"/><text x="1693.83" y="206" textLength="28.34" lengthAdjust="spacingAndGlyphs" fill="#000" stroke="#000" stroke-width="0.25" font-size="10.1" font-family='"Liberation Sans", sans-serif'>73.870</text><rect x="1689" y="235" width="2" height="1" fill="#000"/><text x="1693.83" y="239" textLength="28.34" lengthAdjust="spacingAndGlyphs" fill="#000" stroke="#000" stroke-width="0.25" font-size="10.1" font-family='"Liberation Sans", sans-serif'>73.130</text><rect x="1689" y="268" width="2" height="1" fill="#000"/><text x="1693.83" y="272" textLength="28.34" lengthAdjust="spacingAndGlyphs" fill="#000" stroke="#000" stroke-width="0.25" font-size="10.1" font-family='"Liberation Sans", sans-serif'>72.390</text><rect x="1689" y="301" width="2" height="1" fill="#000"/><text x="1693.83" y="305" textLength="28.34" lengthAdjust="spacingAndGlyphs" fill="#000" stroke="#000" stroke-width="0.25" font-size="10.1" font-family='"Liberation Sans", sans-serif'>71.650</text><rect x="1689" y="334" width="2" height="1" fill="#000"/><text x="1693.83" y="338" textLength="28.34" lengthAdjust="spacingAndGlyphs" fill="#000" stroke="#000" stroke-width="0.25" font-size="10.1" font-family='"Liberation Sans", sans-serif'>70.910</text><rect x="1689" y="367" width="2" height="1" fill="#000"/><text x="1693.83" y="371" textLength="28.34" lengthAdjust="spacingAndGlyphs" fill="#000" stroke="#000" stroke-width="0.25" font-size="10.1" font-family='"Liberation Sans", sans-serif'>70.170</text><rect x="1689" y="400" width="2" height="1" fill="#000"/><text x="1693.83" y="404" textLength="28.33" lengthAdjust="spacingAndGlyphs" fill="#000" stroke="#000" stroke-width="0.25" font-size="10.1" font-family='"Liberation Sans", sans-serif'>69.430</text><rect x="1689" y="433" width="2" height="1" fill="#000"/><text x="1693.83" y="437" textLength="28.33" lengthAdjust="spacingAndGlyphs" fill="#000" stroke="#000" stroke-width="0.25" font-size="10.1" font-family='"Liberation Sans", sans-serif'>68.690</text><rect x="1689" y="466" width="2" height="1" fill="#000"/><text x="1693.83" y="470" textLength="28.33" lengthAdjust="spacingAndGlyphs" fill="#000" stroke="#000" stroke-width="0.25" font-size="10.1" font-family='"Liberation Sans", sans-serif'>67.950</text><rect x="1689" y="499" width="2" height="1" fill="#000"/><text x="1693.83" y="503" textLength="28.33" lengthAdjust="spacingAndGlyphs" fill="#000" stroke="#000" stroke-width="0.25" font-size="10.1" font-family='"Liberation Sans", sans-serif'>67.210</text><rect x="1690" y="101" width="36" height="11" fill="#ff0000"/><text x="1693.72" y="110" textLength="28.44" lengthAdjust="spacingAndGlyphs" fill="#fff" stroke="#fff" stroke-width="0.25" font-size="10.1" font-family='"Liberation Sans", sans-serif'>76.000</text><rect x="1690" y="235" width="36" height="11" fill="#ff0000"/><text x="1693.72" y="244" textLength="28.44" lengthAdjust="spacingAndGlyphs" fill="#fff" stroke="#fff" stroke-width="0.25" font-size="10.1" font-family='"Liberation Sans", sans-serif'>73.000</text><rect x="1690" y="368" width="36" height="11" fill="#32cd32"/><text x="1693.72" y="377" textLength="28.44" lengthAdjust="spacingAndGlyphs" fill="#fff" stroke="#fff" stroke-width="0.25" font-size="10.1" font-family='"Liberation Sans", sans-serif'>70.000</text><rect x="1690" y="317" width="36" height="11" fill="#000"/><text x="1693.72" y="326" textLength="28.44" lengthAdjust="spacingAndGlyphs" fill="#fff" stroke="#fff" stroke-width="0.25" font-size="10.1" font-family='"Liberation Sans", sans-serif'>71.170</text><rect x="1689" y="506" width="2" height="1" fill="#000"/><rect x="1689" y="558" width="2" height="1" fill="#000"/><rect x="1689" y="665" width="2" height="1" fill="#000"/><text x="1691.63" y="515" textLength="23.67" lengthAdjust="spacingAndGlyphs" fill="#000" stroke="#000" stroke-width="0.25" font-size="10.1" font-family='"Liberation Sans", sans-serif'>0.805</text><text x="1691.83" y="562" textLength="18.34" lengthAdjust="spacingAndGlyphs" fill="#000" stroke="#000" stroke-width="0.25" font-size="10.1" font-family='"Liberation Sans", sans-serif'>0.00</text><text x="1691.58" y="663" textLength="31.83" lengthAdjust="spacingAndGlyphs" fill="#000" stroke="#000" stroke-width="0.25" font-size="10.1" font-family='"Liberation Sans", sans-serif'>-1.6556</text><rect x="1689" y="670" width="2" height="1" fill="#000"/><rect x="1689" y="816" width="2" height="1" fill="#000"/><text x="1691.68" y="679" textLength="15.68" lengthAdjust="spacingAndGlyphs" fill="#000" stroke="#000" stroke-width="0.25" font-size="10.1" font-family='"Liberation Sans", sans-serif'>100</text><text x="1691.34" y="718" textLength="10.01" lengthAdjust="spacingAndGlyphs" fill="#000" stroke="#000" stroke-width="0.25" font-size="10.1" font-family='"Liberation Sans", sans-serif'>70</text><text x="1691.46" y="776" textLength="9.89" lengthAdjust="spacingAndGlyphs" fill="#000" stroke="#000" stroke-width="0.25" font-size="10.1" font-family='"Liberation Sans", sans-serif'>30</text><text x="1691.89" y="814" textLength="5.82" lengthAdjust="spacingAndGlyphs" fill="#000" stroke="#000" stroke-width="0.25" font-size="10.1" font-family='"Liberation Sans", sans-serif'>0</text><rect x="3" y="818" width="1" height="3" fill="#000"/><text x="1.53" y="830" textLength="50.92" lengthAdjust="spacingAndGlyphs" fill="#000" stroke="#000" stroke-width="0.25" font-size="10.1" font-family='"Liberation Sans", sans-serif'>20 Jun 2021</text><rect x="67" y="818" width="1" height="3" fill="#000"/><text x="65.53" y="830" textLength="53.83" lengthAdjust="spacingAndGlyphs" fill="#000" stroke="#000" stroke-width="0.25" font-size="10.1" font-family='"Liberation Sans", sans-serif'>22 Jun 04:00</text><rect x="131" y="818" width="1" height="3" fill="#000"/><text x="129.53" y="830" textLength="53.83" lengthAdjust="spacingAndGlyphs" fill="#000" stroke="#000" stroke-width="0.25" font-size="10.1" font-family='"Liberation Sans", sans-serif'>23 Jun 12:00</text><rect x="195" y="818" width="1" height="3" fill="#000"/><text x="193.53" y="830" textLength="53.83" lengthAdjust="spacingAndGlyphs" fill="#000" stroke="#000" stroke-width="0.25" font-size="10.1" font-family='"Liberation Sans", sans-serif'>25 Jun 00:00</text><rect x="259" y="818" width="1" height="3" fill="#000"/><text x="257.53" y="830" textLength="53.83" lengthAdjust="spacingAndGlyphs" fill="#000" stroke="#000" stroke-width="0.25" font-size="10.1" font-family='"Liberation Sans", sans-serif'>28 Jun 04:00</text><rect x="323" y="818" width="1" height="3" fill="#000"/><text x="321.53" y="830" textLength="53.83" lengthAdjust="spacingAndGlyphs" fill="#000" stroke="#000" stroke-width="0.25" font-size="10.1" font-family='"Liberation Sans", sans-serif'>29 Jun 12:00</text><rect x="387" y="818" width="1" height="3" fill="#000"/><text x="385.65" y="830" textLength="53.72" lengthAdjust="spacingAndGlyphs" fill="#000" stroke="#000" stroke-width="0.25" font-size="10.1" font-family='"Liberation Sans", sans-serif'>30 Jun 20:00</text><rect x="451" y="818" width="1" height="3" fill="#000"/><text x="449.53" y="830" textLength="45.84" lengthAdjust="spacingAndGlyphs" fill="#000" stroke="#000" stroke-width="0.25" font-size="10.1" font-family='"Liberation Sans", sans-serif'>2 Jul 04:00</text><rect x="515" y="818" width="1" height="3" fill="#000"/><text x="513.63" y="830" textLength="45.74" lengthAdjust="spacingAndGlyphs" fill="#000" stroke="#000" stroke-width="0.25" font-size="10.1" font-family='"Liberation Sans", sans-serif'>5 Jul 08:00</text><rect x="579" y="818" width="1" height="3" fill="#000"/><text x="577.52" y="830" textLength="45.84" lengthAdjust="spacingAndGlyphs" fill="#000" stroke="#000" stroke-width="0.25" font-size="10.1" font-family='"Liberation Sans", sans-serif'>6 Jul 20:00</text><rect x="643" y="818" width="1" height="3" fill="#000"/><text x="641.59" y="830" textLength="45.77" lengthAdjust="spacingAndGlyphs" fill="#000" stroke="#000" stroke-width="0.25" font-size="10.1" font-family='"Liberation Sans", sans-serif'>8 Jul 04:00</text><rect x="707" y="818" width="1" height="3" fill="#000"/><text x="705.56" y="830" textLength="45.80" lengthAdjust="spacingAndGlyphs" fill="#000" stroke="#000" stroke-width="0.25" font-size="10.1" font-family='"Liberation Sans", sans-serif'>9 Jul 12:00</text><rect x="771" y="818" width="1" height="3" fill="#000"/><text x="770.30" y="830" textLength="50.06" lengthAdjust="spacingAndGlyphs" fill="#000" stroke="#000" stroke-width="0.25" font-size="10.1" font-family='"Liberation Sans", sans-serif'>12 Jul 16:00</text><rect x="835" y="818" width="1" height="3" fill="#000"/><text x="834.30" y="830" textLength="50.06" lengthAdjust="spacingAndGlyphs" fill="#000" stroke="#000" stroke-width="0.25" font-size="10.1" font-family='"Liberation Sans", sans-serif'>14 Jul 00:00</text><rect x="899" y="818" width="1" height="3" fill="#000"/><text x="898.30" y="830" textLength="50.06" lengthAdjust="spacingAndGlyphs" fill="#000" stroke="#000" stroke-width="0.25" font-size="10.1" font-family='"Liberation Sans", sans-serif'>15 Jul 08:00</text><rect x="963" y="818" width="1" height="3" fill="#000"/><text x="962.30" y="830" textLength="50.06" lengthAdjust="spacingAndGlyphs" fill="#000" stroke="#000" stroke-width="0.25" font-size="10.1" font-family='"Liberation Sans", sans-serif'>16 Jul 16:00</text><rect x="1027" y="818" width="1" height="3" fill="#000"/><text x="1026.30" y="830" textLength="50.06" lengthAdjust="spacingAndGlyphs" fill="#000" stroke="#000" stroke-width="0.25" font-size="10.1" font-family='"Liberation Sans", sans-serif'>19 Jul 20:00</text><rect x="1091" y="818" width="1" height="3" fill="#000"/><text x="1089.53" y="830" textLength="50.83" lengthAdjust="spacingAndGlyphs" fill="#000" stroke="#000" stroke-width="0.25" font-size="10.1" font-family='"Liberation Sans", sans-serif'>21 Jul 04:00</text><rect x="1155" y="818" width="1" height="3" fill="#000"/><text x="1153.53" y="830" textLength="50.83" lengthAdjust="spacingAndGlyphs" fill="#000" stroke="#000" stroke-width="0.25" font-size="10.1" font-family='"Liberation Sans", sans-serif'>22 Jul 12:00</text><rect x="1219" y="818" width="1" height="3" fill="#000"/><text x="1217.53" y="830" textLength="50.83" lengthAdjust="spacingAndGlyphs" fill="#000" stroke="#000" stroke-width="0.25" font-size="10.1" font-family='"Liberation Sans", sans-serif'>23 Jul 20:00</text><rect x="1283" y="818" width="1" height="3" fill="#000"/><text x="1281.53" y="830" textLength="50.83" lengthAdjust="spacingAndGlyphs" fill="#000" stroke="#000" stroke-width="0.25" font-size="10.1" font-family='"Liberation Sans", sans-serif'>27 Jul 00:00</text><rect x="1347" y="818" width="1" height="3" fill="#000"/><text x="1345.53" y="830" textLength="50.83" lengthAdjust="spacingAndGlyphs" fill="#000" stroke="#000" stroke-width="0.25" font-size="10.1" font-family='"Liberation Sans", sans-serif'>28 Jul 12:00</text><rect x="1411" y="818" width="1" height="3" fill="#000"/><text x="1409.53" y="830" textLength="50.83" lengthAdjust="spacingAndGlyphs" fill="#000" stroke="#000" stroke-width="0.25" font-size="10.1" font-family='"Liberation Sans", sans-serif'>29 Jul 20:00</text><rect x="1475" y="818" width="1" height="3" fill="#000"/><text x="1473.52" y="830" textLength="51.86" lengthAdjust="spacingAndGlyphs" fill="#000" stroke="#000" stroke-width="0.25" font-size="10.1" font-family='"Liberation Sans", sans-serif'>2 Aug 00:00</text><rect x="1539" y="818" width="1" height="3" fill="#000"/><text x="1537.63" y="830" textLength="51.74" lengthAdjust="spacingAndGlyphs" fill="#000" stroke="#000" stroke-width="0.25" font-size="10.1" font-family='"Liberation Sans", sans-serif'>3 Aug 08:00</text><rect x="1603" y="818" width="1" height="3" fill="#000"/><text x="1601.78" y="830" textLength="51.59" lengthAdjust="spacingAndGlyphs" fill="#000" stroke="#000" stroke-width="0.25" font-size="10.1" font-family='"Liberation Sans", sans-serif'>4 Aug 16:00</text><rect x="1667" y="818" width="1" height="3" fill="#000"/><text x="1665.62" y="830" textLength="51.79" lengthAdjust="spacingAndGlyphs" fill="#000" stroke="#000" stroke-width="0.25" font-size="10.1" font-family='"Liberation Sans", sans-serif'>5 Aug 21:15</text><g clip-path="url(#cd)"><rect x="3" y="558" width="1" height="1" fill="#c0c0c0"/><rect x="11" y="556" width="1" height="3" fill="#c0c0c0"/><rect x="19" y="554" width="1" height="5" fill="#c0c0c0"/><rect x="27" y="554" width="1" height="5" fill="#c0c0c0"/><rect x="35" y="549" width="1" height="10" fill="#c0c0c0"/><rect x="43" y="543" width="1" height="16" fill="#c0c0c0"/><rect x="51" y="539" width="1" height="20" fill="#c0c0c0"/><rect x="59" y="535" width="1" height="24" fill="#c0c0c0"/><rect x="67" y="534" width="1" height="25" fill="#c0c0c0"/><rect x="75" y="535" width="1" height="24" fill="#c0c0c0"/><rect x="83" y="534" width="1" height="25" fill="#c0c0c0"/><rect x="91" y="534" width="1" height="25" fill="#c0c0c0"/><rect x="99" y="534" width="1" height="25" fill="#c0c0c0"/><rect x="107" y="531" width="1" height="28" fill="#c0c0c0"/><rect x="115" y="529" width="1" height="30" fill="#c0c0c0"/><rect x="123" y="528" width="1" height="31" fill="#c0c0c0"/><rect x="131" y="526" width="1" height="33" fill="#c0c0c0"/><rect x="139" y="526" width="1" height="33" fill="#c0c0c0"/><rect x="147" y="527" width="1" height="32" fill="#c0c0c0"/><rect x="155" y="528" width="1" height="31" fill="#c0c0c0"/><rect x="163" y="528" width="1" height="31" fill="#c0c0c0"/><rect x="171" y="531" width="1" height="28" fill="#c0c0c0"/><rect x="179" y="532" width="1" height="27" fill="#c0c0c0"/><rect x="187" y="532" width="1" height="27" fill="#c0c0c0"/><rect x="195" y="535" width="1" height="24" fill="#c0c0c0"/><rect x="203" y="537" width="1" height="22" fill="#c0c0c0"/><rect x="211" y="541" width="1" height="18" fill="#c0c0c0"/><rect x="219" y="542" width="1" height="17" fill="#c0c0c0"/><rect x="227" y="542" width="1" height="17" fill="#c0c0c0"/><rect x="235" y="542" width="1" height="17" fill="#c0c0c0"/><rect x="243" y="542" width="1" height="17" fill="#c0c0c0"/><rect x="251" y="543" width="1" height="16" fill="#c0c0c0"/><rect x="259" y="544" width="1" height="15" fill="#c0c0c0"/><rect x="267" y="545" width="1" height="14" fill="#c0c0c0"/><rect x="275" y="551" width="1" height="8" fill="#c0c0c0"/><rect x="283" y="557" width="1" height="2" fill="#c0c0c0"/><rect x="291" y="558" width="1" height="4" fill="#c0c0c0"/><rect x="299" y="558" width="1" height="9" fill="#c0c0c0"/><rect x="307" y="558" width="1" height="11" fill="#c0c0c0"/><rect x="315" y="558" width="1" height="11" fill="#c0c0c0"/><rect x="323" y="558" width="1" height="11" fill="#c0c0c0"/><rect x="331" y="558" width="1" height="9" fill="#c0c0c0"/><rect x="339" y="558" width="1" height="8" fill="#c0c0c0"/><rect x="347" y="558" width="1" height="7" fill="#c0c0c0"/><rect x="355" y="558" width="1" height="8" fill="#c0c0c0"/><rect x="363" y="558" width="1" height="5" fill="#c0c0c0"/><rect x="371" y="558" width="1" height="5" fill="#c0c0c0"/><rect x="379" y="558" width="1" height="4" fill="#c0c0c0"/><rect x="387" y="558" width="1" height="4" fill="#c0c0c0"/><rect x="395" y="558" width="1" height="2" fill="#c0c0c0"/><rect x="403" y="557" width="1" height="2" fill="#c0c0c0"/><rect x="411" y="549" width="1" height="10" fill="#c0c0c0"/><rect x="419" y="546" width="1" height="13" fill="#c0c0c0"/><rect x="427" y="545" width="1" height="14" fill="#c0c0c0"/><rect x="435" y="543" width="1" height="16" fill="#c0c0c0"/><rect x="443" y="541" width="1" height="18" fill="#c0c0c0"/><rect x="451" y="540" width="1" height="19" fill="#c0c0c0"/><rect x="459" y="541" width="1" height="18" fill="#c0c0c0"/><rect x="467" y="539" width="1" height="20" fill="#c0c0c0"/><rect x="475" y="536" width="1" height="23" fill="#c0c0c0"/><rect x="483" y="535" width="1" height="24" fill="#c0c0c0"/><rect x="491" y="535" width="1" height="24" fill="#c0c0c0"/><rect x="499" y="535" width="1" height="24" fill="#c0c0c0"/><rect x="507" y="535" width="1" height="24" fill="#c0c0c0"/><rect x="515" y="533" width="1" height="26" fill="#c0c0c0"/><rect x="523" y="530" width="1" height="29" fill="#c0c0c0"/><rect x="531" y="527" width="1" height="32" fill="#c0c0c0"/><rect x="539" y="523" width="1" height="36" fill="#c0c0c0"/><rect x="547" y="518" width="1" height="41" fill="#c0c0c0"/><rect x="555" y="520" width="1" height="39" fill="#c0c0c0"/><rect x="563" y="534" width="1" height="25" fill="#c0c0c0"/><rect x="571" y="543" width="1" height="16" fill="#c0c0c0"/><rect x="579" y="550" width="1" height="9" fill="#c0c0c0"/><rect x="587" y="558" width="1" height="1" fill="#c0c0c0"/><rect x="595" y="558" width="1" height="4" fill="#c0c0c0"/><rect x="603" y="558" width="1" height="3" fill="#c0c0c0"/><rect x="611" y="558" width="1" height="17" fill="#c0c0c0"/><rect x="619" y="558" width="1" height="27" fill="#c0c0c0"/><rect x="627" y="558" width="1" height="33" fill="#c0c0c0"/><rect x="635" y="558" width="1" height="37" fill="#c0c0c0"/><rect x="643" y="558" width="1" height="43" fill="#c0c0c0"/><rect x="651" y="558" width="1" height="46" fill="#c0c0c0"/><rect x="659" y="558" width="1" height="44" fill="#c0c0c0"/><rect x="667" y="558" width="1" height="39" fill="#c0c0c0"/><rect x="675" y="558" width="1" height="34" fill="#c0c0c0"/><rect x="683" y="558" width="1" height="32" fill="#c0c0c0"/><rect x="691" y="558" width="1" height="28" fill="#c0c0c0"/><rect x="699" y="558" width="1" height="22" fill="#c0c0c0"/><rect x="707" y="558" width="1" height="14" fill="#c0c0c0"/><rect x="715" y="558" width="1" height="7" fill="#c0c0c0"/><rect x="723" y="558" width="1" height="1" fill="#c0c0c0"/><rect x="731" y="555" width="1" height="4" fill="#c0c0c0"/><rect x="739" y="552" width="1" height="7" fill="#c0c0c0"/><rect x="747" y="553" width="1" height="6" fill="#c0c0c0"/><rect x="755" y="556" width="1" height="3" fill="#c0c0c0"/><rect x="763" y="554" width="1" height="5" fill="#c0c0c0"/><rect x="771" y="553" width="1" height="6" fill="#c0c0c0"/><rect x="779" y="552" width="1" height="7" fill="#c0c0c0"/><rect x="787" y="551" width="1" height="8" fill="#c0c0c0"/><rect x="795" y="549" width="1" height="10" fill="#c0c0c0"/><rect x="803" y="547" width="1" height="12" fill="#c0c0c0"/><rect x="811" y="544" width="1" height="15" fill="#c0c0c0"/><rect x="819" y="539" width="1" height="20" fill="#c0c0c0"/><rect x="827" y="536" width="1" height="23" fill="#c0c0c0"/><rect x="835" y="534" width="1" height="25" fill="#c0c0c0"/><rect x="843" y="533" width="1" height="26" fill="#c0c0c0"/><rect x="851" y="532" width="1" height="27" fill="#c0c0c0"/><rect x="859" y="538" width="1" height="21" fill="#c0c0c0"/><rect x="867" y="546" width="1" height="13" fill="#c0c0c0"/><rect x="875" y="553" width="1" height="6" fill="#c0c0c0"/><rect x="883" y="558" width="1" height="2" fill="#c0c0c0"/><rect x="891" y="558" width="1" height="9" fill="#c0c0c0"/><rect x="899" y="558" width="1" height="16" fill="#c0c0c0"/><rect x="907" y="558" width="1" height="17" fill="#c0c0c0"/><rect x="915" y="558" width="1" height="23" fill="#c0c0c0"/><rect x="923" y="558" width="1" height="28" fill="#c0c0c0"/><rect x="931" y="558" width="1" height="30" fill="#c0c0c0"/><rect x="939" y="558" width="1" height="32" fill="#c0c0c0"/><rect x="947" y="558" width="1" height="32" fill="#c0c0c0"/><rect x="955" y="558" width="1" height="31" fill="#c0c0c0"/><rect x="963" y="558" width="1" height="32" fill="#c0c0c0"/><rect x="971" y="558" width="1" height="33" fill="#c0c0c0"/><rect x="979" y="558" width="1" height="34" fill="#c0c0c0"/><rect x="987" y="558" width="1" height="36" fill="#c0c0c0"/><rect x="995" y="558" width="1" height="38" fill="#c0c0c0"/><rect x="1003" y="558" width="1" height="47" fill="#c0c0c0"/><rect x="1011" y="558" width="1" height="62" fill="#c0c0c0"/><rect x="1019" y="558" width="1" height="78" fill="#c0c0c0"/><rect x="1027" y="558" width="1" height="88" fill="#c0c0c0"/><rect x="1035" y="558" width="1" height="95" fill="#c0c0c0"/><rect x="1043" y="558" width="1" height="96" fill="#c0c0c0"/><rect x="1051" y="558" width="1" height="100" fill="#c0c0c0"/><rect x="1059" y="558" width="1" height="97" fill="#c0c0c0"/><rect x="1067" y="558" width="1" height="94" fill="#c0c0c0"/><rect x="1075" y="558" width="1" height="95" fill="#c0c0c0"/><rect x="1083" y="558" width="1" height="93" fill="#c0c0c0"/><rect x="1091" y="558" width="1" height="86" fill="#c0c0c0"/><rect x="1099" y="558" width="1" height="77" fill="#c0c0c0"/><rect x="1107" y="558" width="1" height="59" fill="#c0c0c0"/><rect x="1115" y="558" width="1" height="45" fill="#c0c0c0"/><rect x="1123" y="558" width="1" height="33" fill="#c0c0c0"/><rect x="1131" y="558" width="1" height="24" fill="#c0c0c0"/><rect x="1139" y="558" width="1" height="17" fill="#c0c0c0"/><rect x="1147" y="558" width="1" height="6" fill="#c0c0c0"/><rect x="1155" y="555" width="1" height="4" fill="#c0c0c0"/><rect x="1163" y="546" width="1" height="13" fill="#c0c0c0"/><rect x="1171" y="538" width="1" height="21" fill="#c0c0c0"/><rect x="1179" y="532" width="1" height="27" fill="#c0c0c0"/><rect x="1187" y="528" width="1" height="31" fill="#c0c0c0"/><rect x="1195" y="524" width="1" height="35" fill="#c0c0c0"/><rect x="1203" y="522" width="1" height="37" fill="#c0c0c0"/><rect x="1211" y="518" width="1" height="41" fill="#c0c0c0"/><rect x="1219" y="516" width="1" height="43" fill="#c0c0c0"/><rect x="1227" y="513" width="1" height="46" fill="#c0c0c0"/><rect x="1235" y="515" width="1" height="44" fill="#c0c0c0"/><rect x="1243" y="519" width="1" height="40" fill="#c0c0c0"/><rect x="1251" y="520" width="1" height="39" fill="#c0c0c0"/><rect x="1259" y="520" width="1" height="39" fill="#c0c0c0"/><rect x="1267" y="517" width="1" height="42" fill="#c0c0c0"/><rect x="1275" y="515" width="1" height="44" fill="#c0c0c0"/><rect x="1283" y="513" width="1" height="46" fill="#c0c0c0"/><rect x="1291" y="514" width="1" height="45" fill="#c0c0c0"/><rect x="1299" y="515" width="1" height="44" fill="#c0c0c0"/><rect x="1307" y="518" width="1" height="41" fill="#c0c0c0"/><rect x="1315" y="519" width="1" height="40" fill="#c0c0c0"/><rect x="1323" y="524" width="1" height="35" fill="#c0c0c0"/><rect x="1331" y="529" width="1" height="30" fill="#c0c0c0"/><rect x="1339" y="533" width="1" height="26" fill="#c0c0c0"/><rect x="1347" y="536" width="1" height="23" fill="#c0c0c0"/><rect x="1355" y="539" width="1" height="20" fill="#c0c0c0"/><rect x="1363" y="541" width="1" height="18" fill="#c0c0c0"/><rect x="1371" y="542" width="1" height="17" fill="#c0c0c0"/><rect x="1379" y="541" width="1" height="18" fill="#c0c0c0"/><rect x="1387" y="541" width="1" height="18" fill="#c0c0c0"/><rect x="1395" y="538" width="1" height="21" fill="#c0c0c0"/><rect x="1403" y="535" width="1" height="24" fill="#c0c0c0"/><rect x="1411" y="535" width="1" height="24" fill="#c0c0c0"/><rect x="1419" y="536" width="1" height="23" fill="#c0c0c0"/><rect x="1427" y="535" width="1" height="24" fill="#c0c0c0"/><rect x="1435" y="535" width="1" height="24" fill="#c0c0c0"/><rect x="1443" y="533" width="1" height="26" fill="#c0c0c0"/><rect x="1451" y="532" width="1" height="27" fill="#c0c0c0"/><rect x="1459" y="533" width="1" height="26" fill="#c0c0c0"/><rect x="1467" y="533" width="1" height="26" fill="#c0c0c0"/><rect x="1475" y="537" width="1" height="22" fill="#c0c0c0"/><rect x="1483" y="540" width="1" height="19" fill="#c0c0c0"/><rect x="1491" y="542" width="1" height="17" fill="#c0c0c0"/><rect x="1499" y="555" width="1" height="4" fill="#c0c0c0"/><rect x="1507" y="558" width="1" height="4" fill="#c0c0c0"/><rect x="1515" y="558" width="1" height="9" fill="#c0c0c0"/><rect x="1523" y="558" width="1" height="14" fill="#c0c0c0"/><rect x="1531" y="558" width="1" height="17" fill="#c0c0c0"/><rect x="1539" y="558" width="1" height="20" fill="#c0c0c0"/><rect x="1547" y="558" width="1" height="24" fill="#c0c0c0"/><rect x="1555" y="558" width="1" height="27" fill="#c0c0c0"/><rect x="1563" y="558" width="1" height="30" fill="#c0c0c0"/><rect x="1571" y="558" width="1" height="31" fill="#c0c0c0"/><rect x="1579" y="558" width="1" height="31" fill="#c0c0c0"/><rect x="1587" y="558" width="1" height="37" fill="#c0c0c0"/><rect x="1595" y="558" width="1" height="47" fill="#c0c0c0"/><rect x="1603" y="558" width="1" height="55" fill="#c0c0c0"/><rect x="1611" y="558" width="1" height="59" fill="#c0c0c0"/><rect x="1619" y="558" width="1" height="61" fill="#c0c0c0"/><rect x="1627" y="558" width="1" height="62" fill="#c0c0c0"/><rect x="1635" y="558" width="1" height="64" fill="#c0c0c0"/><rect x="1643" y="558" width="1" height="59" fill="#c0c0c0"/><rect x="1651" y="558" width="1" height="54" fill="#c0c0c0"/><rect x="1659" y="558" width="1" height="50" fill="#c0c0c0"/><rect x="1667" y="558" width="1" height="47" fill="#c0c0c0"/><polyline points="3.5,558.9 11.5,558.6 19.5,558.1 27.5,557.7 35.5,556.7 43.5,555.0 51.5,552.9 59.5,550.2 67.5,547.6 75.5,545.0 83.5,542.6 91.5,540.3 99.5,538.0 107.5,536.0 115.5,534.5 123.5,533.2 131.5,532.2 139.5,531.4 147.5,530.4 155.5,529.7 163.5,529.1 171.5,528.8 179.5,528.8 187.5,529.0 195.5,529.8 203.5,531.1 211.5,532.8 219.5,534.4 227.5,536.0 235.5,537.6 243.5,538.9 251.5,540.1 259.5,541.6 267.5,542.7 275.5,544.2 283.5,545.9 291.5,548.1 299.5,550.9 307.5,553.8 315.5,556.8 323.5,559.7 331.5,562.2 339.5,564.4 347.5,566.0 355.5,567.0 363.5,567.2 371.5,566.7 379.5,566.0 387.5,565.2 395.5,564.2 403.5,563.1 411.5,561.2 419.5,559.1 427.5,556.7 435.5,554.5 443.5,552.1 451.5,549.6 459.5,547.3 467.5,545.0 475.5,542.7 483.5,541.2 491.5,539.9 499.5,538.8 507.5,537.9 515.5,537.0 523.5,536.0 531.5,534.4 539.5,532.6 547.5,530.6 555.5,528.9 563.5,528.7 571.5,529.7 579.5,531.4 587.5,534.2 595.5,537.8 603.5,541.6 611.5,547.4 619.5,554.8 627.5,562.7 635.5,569.5 643.5,576.0 651.5,582.0 659.5,586.8 667.5,590.7 675.5,594.2 683.5,595.8 691.5,595.9 699.5,594.7 707.5,592.2 715.5,588.2 723.5,583.1 731.5,577.9 739.5,572.9 747.5,568.5 755.5,564.7 763.5,561.3 771.5,558.2 779.5,556.0 787.5,554.5 795.5,553.3 803.5,552.5 811.5,551.5 819.5,549.9 827.5,547.7 835.5,545.5 843.5,543.3 851.5,541.1 859.5,539.6 867.5,539.4 875.5,540.0 883.5,541.8 891.5,545.0 899.5,549.2 907.5,553.7 915.5,559.0 923.5,565.0 931.5,570.5 939.5,575.4 947.5,579.5 955.5,582.8 963.5,585.3 971.5,587.2 979.5,589.2 987.5,590.6 995.5,591.7 1003.5,593.5 1011.5,596.8 1019.5,601.8 1027.5,608.2 1035.5,615.2 1043.5,622.2 1051.5,629.5 1059.5,636.3 1067.5,642.5 1075.5,647.8 1083.5,651.3 1091.5,652.2 1099.5,651.0 1107.5,647.0 1115.5,641.2 1123.5,633.7 1131.5,625.6 1139.5,617.1 1147.5,607.3 1155.5,596.7 1163.5,585.7 1171.5,574.9 1179.5,565.5 1187.5,557.2 1195.5,549.8 1203.5,543.1 1211.5,536.8 1219.5,531.5 1227.5,526.8 1235.5,523.4 1243.5,521.4 1251.5,520.1 1259.5,519.3 1267.5,518.5 1275.5,517.7 1283.5,517.2 1291.5,517.0 1299.5,517.2 1307.5,517.4 1315.5,517.4 1323.5,517.8 1331.5,518.7 1339.5,520.5 1347.5,522.8 1355.5,525.7 1363.5,528.7 1371.5,531.7 1379.5,534.3 1387.5,536.7 1395.5,538.3 1403.5,539.0 1411.5,539.2 1419.5,539.2 1427.5,538.7 1435.5,538.0 1443.5,537.0 1451.5,536.0 1459.5,535.1 1467.5,534.5 1475.5,534.6 1483.5,535.2 1491.5,536.0 1499.5,538.2 1507.5,541.2 1515.5,545.0 1523.5,549.4 1531.5,554.2 1539.5,559.2 1547.5,564.2 1555.5,569.2 1563.5,574.2 1571.5,578.0 1579.5,581.0 1587.5,584.1 1595.5,587.8 1603.5,591.9 1611.5,596.3 1619.5,600.5 1627.5,604.4 1635.5,608.2 1643.5,611.3 1651.5,613.9 1659.5,615.3 1667.5,615.3" fill="none" stroke="#ff0000" stroke-width="1" stroke-linejoin="bevel" stroke-dasharray="3,3"/></g><g clip-path="url(#cr)"><rect x="4" y="714" width="3" height="1" fill="#c0c0c0"/><rect x="10" y="714" width="3" height="1" fill="#c0c0c0"/><rect x="16" y="714" width="3" height="1" fill="#c0c0c0"/><rect x="22" y="714" width="3" height="1" fill="#c0c0c0"/><rect x="28" y="714" width="3" height="1" fill="#c0c0c0"/><rect x="34" y="714" width="3" height="1" fill="#c0c0c0"/><rect x="40" y="714" width="3" height="1" fill="#c0c0c0"/><rect x="46" y="714" width="3" height="1" fill="#c0c0c0"/><rect x="52" y="714" width="3" height="1" fill="#c0c0c0"/><rect x="58" y="714" width="3" height="1" fill="#c0c0c0"/><rect x="64" y="714" width="3" height="1" fill="#c0c0c0"/><rect x="70" y="714" width="3" height="1" fill="#c0c0c0"/><rect x="76" y="714" width="3" height="1" fill="#c0c0c0"/><rect x="82" y="714" width="3" height="1" fill="#c0c0c0"/><rect x="88" y="714" width="3" height="1" fill="#c0c0c0"/><rect x="94" y="714" width="3" height="1" fill="#c0c0c0"/><rect x="100" y="714" width="3" height="1" fill="#c0c0c0"/><rect x="106" y="714" width="3" height="1" fill="#c0c0c0"/><rect x="112" y="714" width="3" height="1" fill="#c0c0c0"/><rect x="118" y="714" width="3" height="1" fill="#c0c0c0"/><rect x="124" y="714" width="3" height="1" fill="#c0c0c0"/><rect x="130" y="714" width="3" height="1" fill="#c0c0c0"/><rect x="136" y="714" width="3" height="1" fill="#c0c0c0"/><rect x="142" y="714" width="3" height="1" fill="#c0c0c0"/><rect x="148" y="714" width="3" height="1" fill="#c0c0c0"/><rect x="154" y="714" width="3" height="1" fill="#c0c0c0"/><rect x="160" y="714" width="3" height="1" fill="#c0c0c0"/><rect x="166" y="714" width="3" height="1" fill="#c0c0c0"/><rect x="172" y="714" width="3" height="1" fill="#c0c0c0"/><rect x="178" y="714" width="3" height="1" fill="#c0c0c0"/><rect x="184" y="714" width="3" height="1" fill="#c0c0c0"/><rect x="190" y="714" width="3" height="1" fill="#c0c0c0"/><rect x="196" y="714" width="3" height="1" fill="#c0c0c0"/><rect x="202" y="714" width="3" height="1" fill="#c0c0c0"/><rect x="208" y="714" width="3" height="1" fill="#c0c0c0"/><rect x="214" y="714" width="3" height="1" fill="#c0c0c0"/><rect x="220" y="714" width="3" height="1" fill="#c0c0c0"/><rect x="226" y="714" width="3" height="1" fill="#c0c0c0"/><rect x="232" y="714" width="3" height="1" fill="#c0c0c0"/><rect x="238" y="714" width="3" height="1" fill="#c0c0c0"/><rect x="244" y="714" width="3" height="1" fill="#c0c0c0"/><rect x="250" y="714" width="3" height="1" fill="#c0c0c0"/><rect x="256" y="714" width="3" height="1" fill="#c0c0c0"/><rect x="262" y="714" width="3" height="1" fill="#c0c0c0"/><rect x="268" y="714" width="3" height="1" fill="#c0c0c0"/><rect x="274" y="714" width="3" height="1" fill="#c0c0c0"/><rect x="280" y="714" width="3" height="1" fill="#c0c0c0"/><rect x="286" y="714" width="3" height="1" fill="#c0c0c0"/><rect x="292" y="714" width="3" height="1" fill="#c0c0c0"/><rect x="298" y="714" width="3" height="1" fill="#c0c0c0"/><rect x="304" y="714" width="3" height="1" fill="#c0c0c0"/><rect x="310" y="714" width="3" height="1" fill="#c0c0c0"/><rect x="316" y="714" width="3" height="1" fill="#c0c0c0"/><rect x="322" y="714" width="3" height="1" fill="#c0c0c0"/><rect x="328" y="714" width="3" height="1" fill="#c0c0c0"/><rect x="334" y="714" width="3" height="1" fill="#c0c0c0"/><rect x="340" y="714" width="3" height="1" fill="#c0c0c0"/><rect x="346" y="714" width="3" height="1" fill="#c0c0c0"/><rect x="352" y="714" width="3" height="1" fill="#c0c0c0"/><rect x="358" y="714" width="3" height="1" fill="#c0c0c0"/><rect x="364" y="714" width="3" height="1" fill="#c0c0c0"/><rect x="370" y="714" width="3" height="1" fill="#c0c0c0"/><rect x="376" y="714" width="3" height="1" fill="#c0c0c0"/><rect x="382" y="714" width="3" height="1" fill="#c0c0c0"/><rect x="388" y="714" width="3" height="1" fill="#c0c0c0"/><rect x="394" y="714" width="3" height="1" fill="#c0c0c0"/><rect x="400" y="714" width="3" height="1" fill="#c0c0c0"/><rect x="406" y="714" width="3" height="1" fill="#c0c0c0"/><rect x="412" y="714" width="3" height="1" fill="#c0c0c0"/><rect x="418" y="714" width="3" height="1" fill="#c0c0c0"/><rect x="424" y="714" width="3" height="1" fill="#c0c0c0"/><rect x="430" y="714" width="3" height="1" fill="#c0c0c0"/><rect x="436" y="714" width="3" height="1" fill="#c0c0c0"/><rect x="442" y="714" width="3" height="1" fill="#c0c0c0"/><rect x="448" y="714" width="3" height="1" fill="#c0c0c0"/><rect x="454" y="714" width="3" height="1" fill="#c0c0c0"/><rect x="460" y="714" width="3" height="1" fill="#c0c0c0"/><rect x="466" y="714" width="3" height="1" fill="#c0c0c0"/><rect x="472" y="714" width="3" height="1" fill="#c0c0c0"/><rect x="478" y="714" width="3" height="1" fill="#c0c0c0"/><rect x="484" y="714" width="3" height="1" fill="#c0c0c0"/><rect x="490" y="714" width="3" height="1" fill="#c0c0c0"/><rect x="496" y="714" width="3" height="1" fill="#c0c0c0"/><rect x="502" y="714" width="3" height="1" fill="#c0c0c0"/><rect x="508" y="714" width="3" height="1" fill="#c0c0c0"/><rect x="514" y="714" width="3" height="1" fill="#c0c0c0"/><rect x="520" y="714" width="3" height="1" fill="#c0c0c0"/><rect x="526" y="714" width="3" height="1" fill="#c0c0c0"/><rect x="532" y="714" width="3" height="1" fill="#c0c0c0"/><rect x="538" y="714" width="3" height="1" fill="#c0c0c0"/><rect x="544" y="714" width="3" height="1" fill="#c0c0c0"/><rect x="550" y="714" width="3" height="1" fill="#c0c0c0"/><rect x="556" y="714" width="3" height="1" fill="#c0c0c0"/><rect x="562" y="714" width="3" height="1" fill="#c0c0c0"/><rect x="568" y="714" width="3" height="1" fill="#c0c0c0"/><rect x="574" y="714" width="3" height="1" fill="#c0c0c0"/><rect x="580" y="714" width="3" height="1" fill="#c0c0c0"/><rect x="586" y="714" width="3" height="1" fill="#c0c0c0"/><rect x="592" y="714" width="3" height="1" fill="#c0c0c0"/><rect x="598" y="714" width="3" height="1" fill="#c0c0c0"/><rect x="604" y="714" width="3" height="1" fill="#c0c0c0"/><rect x="610" y="714" width="3" height="1" fill="#c0c0c0"/><rect x="616" y="714" width="3" height="1" fill="#c0c0c0"/><rect x="622" y="714" width="3" height="1" fill="#c0c0c0"/><rect x="628" y="714" width="3" height="1" fill="#c0c0c0"/><rect x="634" y="714" width="3" height="1" fill="#c0c0c0"/><rect x="640" y="714" width="3" height="1" fill="#c0c0c0"/><rect x="646" y="714" width="3" height="1" fill="#c0c0c0"/><rect x="652" y="714" width="3" height="1" fill="#c0c0c0"/><rect x="658" y="714" width="3" height="1" fill="#c0c0c0"/><rect x="664" y="714" width="3" height="1" fill="#c0c0c0"/><rect x="670" y="714" width="3" height="1" fill="#c0c0c0"/><rect x="676" y="714" width="3" height="1" fill="#c0c0c0"/><rect x="682" y="714" width="3" height="1" fill="#c0c0c0"/><rect x="688" y="714" width="3" height="1" fill="#c0c0c0"/><rect x="694" y="714" width="3" height="1" fill="#c0c0c0"/><rect x="700" y="714" width="3" height="1" fill="#c0c0c0"/><rect x="706" y="714" width="3" height="1" fill="#c0c0c0"/><rect x="712" y="714" width="3" height="1" fill="#c0c0c0"/><rect x="718" y="714" width="3" height="1" fill="#c0c0c0"/><rect x="724" y="714" width="3" height="1" fill="#c0c0c0"/><rect x="730" y="714" width="3" height="1" fill="#c0c0c0"/><rect x="736" y="714" width="3" height="1" fill="#c0c0c0"/><rect x="742" y="714" width="3" height="1" fill="#c0c0c0"/><rect x="748" y="714" width="3" height="1" fill="#c0c0c0"/><rect x="754" y="714" width="3" height="1" fill="#c0c0c0"/><rect x="760" y="714" width="3" height="1" fill="#c0c0c0"/><rect x="766" y="714" width="3" height="1" fill="#c0c0c0"/><rect x="772" y="714" width="3" height="1" fill="#c0c0c0"/><rect x="778" y="714" width="3" height="1" fill="#c0c0c0"/><rect x="784" y="714" width="3" height="1" fill="#c0c0c0"/><rect x="790" y="714" width="3" height="1" fill="#c0c0c0"/><rect x="796" y="714" width="3" height="1" fill="#c0c0c0"/><rect x="802" y="714" width="3" height="1" fill="#c0c0c0"/><rect x="808" y="714" width="3" height="1" fill="#c0c0c0"/><rect x="814" y="714" width="3" height="1" fill="#c0c0c0"/><rect x="820" y="714" width="3" height="1" fill="#c0c0c0"/><rect x="826" y="714" width="3" height="1" fill="#c0c0c0"/><rect x="832" y="714" width="3" height="1" fill="#c0c0c0"/><rect x="838" y="714" width="3" height="1" fill="#c0c0c0"/><rect x="844" y="714" width="3" height="1" fill="#c0c0c0"/><rect x="850" y="714" width="3" height="1" fill="#c0c0c0"/><rect x="856" y="714" width="3" height="1" fill="#c0c0c0"/><rect x="862" y="714" width="3" height="1" fill="#c0c0c0"/><rect x="868" y="714" width="3" height="1" fill="#c0c0c0"/><rect x="874" y="714" width="3" height="1" fill="#c0c0c0"/><rect x="880" y="714" width="3" height="1" fill="#c0c0c0"/><rect x="886" y="714" width="3" height="1" fill="#c0c0c0"/><rect x="892" y="714" width="3" height="1" fill="#c0c0c0"/><rect x="898" y="714" width="3" height="1" fill="#c0c0c0"/><rect x="904" y="714" width="3" height="1" fill="#c0c0c0"/><rect x="910" y="714" width="3" height="1" fill="#c0c0c0"/><rect x="916" y="714" width="3" height="1" fill="#c0c0c0"/><rect x="922" y="714" width="3" height="1" fill="#c0c0c0"/><rect x="928" y="714" width="3" height="1" fill="#c0c0c0"/><rect x="934" y="714" width="3" height="1" fill="#c0c0c0"/><rect x="940" y="714" width="3" height="1" fill="#c0c0c0"/><rect x="946" y="714" width="3" height="1" fill="#c0c0c0"/><rect x="952" y="714" width="3" height="1" fill="#c0c0c0"/><rect x="958" y="714" width="3" height="1" fill="#c0c0c0"/><rect x="964" y="714" width="3" height="1" fill="#c0c0c0"/><rect x="970" y="714" width="3" height="1" fill="#c0c0c0"/><rect x="976" y="714" width="3" height="1" fill="#c0c0c0"/><rect x="982" y="714" width="3" height="1" fill="#c0c0c0"/><rect x="988" y="714" width="3" height="1" fill="#c0c0c0"/><rect x="994" y="714" width="3" height="1" fill="#c0c0c0"/><rect x="1000" y="714" width="3" height="1" fill="#c0c0c0"/><rect x="1006" y="714" width="3" height="1" fill="#c0c0c0"/><rect x="1012" y="714" width="3" height="1" fill="#c0c0c0"/><rect x="1018" y="714" width="3" height="1" fill="#c0c0c0"/><rect x="1024" y="714" width="3" height="1" fill="#c0c0c0"/><rect x="1030" y="714" width="3" height="1" fill="#c0c0c0"/><rect x="1036" y="714" width="3" height="1" fill="#c0c0c0"/><rect x="1042" y="714" width="3" height="1" fill="#c0c0c0"/><rect x="1048" y="714" width="3" height="1" fill="#c0c0c0"/><rect x="1054" y="714" width="3" height="1" fill="#c0c0c0"/><rect x="1060" y="714" width="3" height="1" fill="#c0c0c0"/><rect x="1066" y="714" width="3" height="1" fill="#c0c0c0"/><rect x="1072" y="714" width="3" height="1" fill="#c0c0c0"/><rect x="1078" y="714" width="3" height="1" fill="#c0c0c0"/><rect x="1084" y="714" width="3" height="1" fill="#c0c0c0"/><rect x="1090" y="714" width="3" height="1" fill="#c0c0c0"/><rect x="1096" y="714" width="3" height="1" fill="#c0c0c0"/><rect x="1102" y="714" width="3" height="1" fill="#c0c0c0"/><rect x="1108" y="714" width="3" height="1" fill="#c0c0c0"/><rect x="1114" y="714" width="3" height="1" fill="#c0c0c0"/><rect x="1120" y="714" width="3" height="1" fill="#c0c0c0"/><rect x="1126" y="714" width="3" height="1" fill="#c0c0c0"/><rect x="1132" y="714" width="3" height="1" fill="#c0c0c0"/><rect x="1138" y="714" width="3" height="1" fill="#c0c0c0"/><rect x="1144" y="714" width="3" height="1" fill="#c0c0c0"/><rect x="1150" y="714" width="3" height="1" fill="#c0c0c0"/><rect x="1156" y="714" width="3" height="1" fill="#c0c0c0"/><rect x="1162" y="714" width="3" height="1" fill="#c0c0c0"/><rect x="1168" y="714" width="3" height="1" fill="#c0c0c0"/><rect x="1174" y="714" width="3" height="1" fill="#c0c0c0"/><rect x="1180" y="714" width="3" height="1" fill="#c0c0c0"/><rect x="1186" y="714" width="3" height="1" fill="#c0c0c0"/><rect x="1192" y="714" width="3" height="1" fill="#c0c0c0"/><rect x="1198" y="714" width="3" height="1" fill="#c0c0c0"/><rect x="1204" y="714" width="3" height="1" fill="#c0c0c0"/><rect x="1210" y="714" width="3" height="1" fill="#c0c0c0"/><rect x="1216" y="714" width="3" height="1" fill="#c0c0c0"/><rect x="1222" y="714" width="3" height="1" fill="#c0c0c0"/><rect x="1228" y="714" width="3" height="1" fill="#c0c0c0"/><rect x="1234" y="714" width="3" height="1" fill="#c0c0c0"/><rect x="1240" y="714" width="3" height="1" fill="#c0c0c0"/><rect x="1246" y="714" width="3" height="1" fill="#c0c0c0"/><rect x="1252" y="714" width="3" height="1" fill="#c0c0c0"/><rect x="1258" y="714" width="3" height="1" fill="#c0c0c0"/><rect x="1264" y="714" width="3" height="1" fill="#c0c0c0"/><rect x="1270" y="714" width="3" height="1" fill="#c0c0c0"/><rect x="1276" y="714" width="3" height="1" fill="#c0c0c0"/><rect x="1282" y="714" width="3" height="1" fill="#c0c0c0"/><rect x="1288" y="714" width="3" height="1" fill="#c0c0c0"/><rect x="1294" y="714" width="3" height="1" fill="#c0c0c0"/><rect x="1300" y="714" width="3" height="1" fill="#c0c0c0"/><rect x="1306" y="714" width="3" height="1" fill="#c0c0c0"/><rect x="1312" y="714" width="3" height="1" fill="#c0c0c0"/><rect x="1318" y="714" width="3" height="1" fill="#c0c0c0"/><rect x="1324" y="714" width="3" height="1" fill="#c0c0c0"/><rect x="1330" y="714" width="3" height="1" fill="#c0c0c0"/><rect x="1336" y="714" width="3" height="1" fill="#c0c0c0"/><rect x="1342" y="714" width="3" height="1" fill="#c0c0c0"/><rect x="1348" y="714" width="3" height="1" fill="#c0c0c0"/><rect x="1354" y="714" width="3" height="1" fill="#c0c0c0"/><rect x="1360" y="714" width="3" height="1" fill="#c0c0c0"/><rect x="1366" y="714" width="3" height="1" fill="#c0c0c0"/><rect x="1372" y="714" width="3" height="1" fill="#c0c0c0"/><rect x="1378" y="714" width="3" height="1" fill="#c0c0c0"/><rect x="1384" y="714" width="3" height="1" fill="#c0c0c0"/><rect x="1390" y="714" width="3" height="1" fill="#c0c0c0"/><rect x="1396" y="714" width="3" height="1" fill="#c0c0c0"/><rect x="1402" y="714" width="3" height="1" fill="#c0c0c0"/><rect x="1408" y="714" width="3" height="1" fill="#c0c0c0"/><rect x="1414" y="714" width="3" height="1" fill="#c0c0c0"/><rect x="1420" y="714" width="3" height="1" fill="#c0c0c0"/><rect x="1426" y="714" width="3" height="1" fill="#c0c0c0"/><rect x="1432" y="714" width="3" height="1" fill="#c0c0c0"/><rect x="1438" y="714" width="3" height="1" fill="#c0c0c0"/><rect x="1444" y="714" width="3" height="1" fill="#c0c0c0"/><rect x="1450" y="714" width="3" height="1" fill="#c0c0c0"/><rect x="1456" y="714" width="3" height="1" fill="#c0c0c0"/><rect x="1462" y="714" width="3" height="1" fill="#c0c0c0"/><rect x="1468" y="714" width="3" height="1" fill="#c0c0c0"/><rect x="1474" y="714" width="3" height="1" fill="#c0c0c0"/><rect x="1480" y="714" width="3" height="1" fill="#c0c0c0"/><rect x="1486" y="714" width="3" height="1" fill="#c0c0c0"/><rect x="1492" y="714" width="3" height="1" fill="#c0c0c0"/><rect x="1498" y="714" width="3" height="1" fill="#c0c0c0"/><rect x="1504" y="714" width="3" height="1" fill="#c0c0c0"/><rect x="1510" y="714" width="3" height="1" fill="#c0c0c0"/><rect x="1516" y="714" width="3" height="1" fill="#c0c0c0"/><rect x="1522" y="714" width="3" height="1" fill="#c0c0c0"/><rect x="1528" y="714" width="3" height="1" fill="#c0c0c0"/><rect x="1534" y="714" width="3" height="1" fill="#c0c0c0"/><rect x="1540" y="714" width="3" height="1" fill="#c0c0c0"/><rect x="1546" y="714" width="3" height="1" fill="#c0c0c0"/><rect x="1552" y="714" width="3" height="1" fill="#c0c0c0"/><rect x="1558" y="714" width="3" height="1" fill="#c0c0c0"/><rect x="1564" y="714" width="3" height="1" fill="#c0c0c0"/><rect x="1570" y="714" width="3" height="1" fill="#c0c0c0"/><rect x="1576" y="714" width="3" height="1" fill="#c0c0c0"/><rect x="1582" y="714" width="3" height="1" fill="#c0c0c0"/><rect x="1588" y="714" width="3" height="1" fill="#c0c0c0"/><rect x="1594" y="714" width="3" height="1" fill="#c0c0c0"/><rect x="1600" y="714" width="3" height="1" fill="#c0c0c0"/><rect x="1606" y="714" width="3" height="1" fill="#c0c0c0"/><rect x="1612" y="714" width="3" height="1" fill="#c0c0c0"/><rect x="1618" y="714" width="3" height="1" fill="#c0c0c0"/><rect x="1624" y="714" width="3" height="1" fill="#c0c0c0"/><rect x="1630" y="714" width="3" height="1" fill="#c0c0c0"/><rect x="1636" y="714" width="3" height="1" fill="#c0c0c0"/><rect x="1642" y="714" width="3" height="1" fill="#c0c0c0"/><rect x="1648" y="714" width="3" height="1" fill="#c0c0c0"/><rect x="1654" y="714" width="3" height="1" fill="#c0c0c0"/><rect x="1660" y="714" width="3" height="1" fill="#c0c0c0"/><rect x="1666" y="714" width="3" height="1" fill="#c0c0c0"/><rect x="1672" y="714" width="3" height="1" fill="#c0c0c0"/><rect x="1678" y="714" width="3" height="1" fill="#c0c0c0"/><rect x="1684" y="714" width="3" height="1" fill="#c0c0c0"/><rect x="4" y="772" width="3" height="1" fill="#c0c0c0"/><rect x="10" y="772" width="3" height="1" fill="#c0c0c0"/><rect x="16" y="772" width="3" height="1" fill="#c0c0c0"/><rect x="22" y="772" width="3" height="1" fill="#c0c0c0"/><rect x="28" y="772" width="3" height="1" fill="#c0c0c0"/><rect x="34" y="772" width="3" height="1" fill="#c0c0c0"/><rect x="40" y="772" width="3" height="1" fill="#c0c0c0"/><rect x="46" y="772" width="3" height="1" fill="#c0c0c0"/><rect x="52" y="772" width="3" height="1" fill="#c0c0c0"/><rect x="58" y="772" width="3" height="1" fill="#c0c0c0"/><rect x="64" y="772" width="3" height="1" fill="#c0c0c0"/><rect x="70" y="772" width="3" height="1" fill="#c0c0c0"/><rect x="76" y="772" width="3" height="1" fill="#c0c0c0"/><rect x="82" y="772" width="3" height="1" fill="#c0c0c0"/><rect x="88" y="772" width="3" height="1" fill="#c0c0c0"/><rect x="94" y="772" width="3" height="1" fill="#c0c0c0"/><rect x="100" y="772" width="3" height="1" fill="#c0c0c0"/><rect x="106" y="772" width="3" height="1" fill="#c0c0c0"/><rect x="112" y="772" width="3" height="1" fill="#c0c0c0"/><rect x="118" y="772" width="3" height="1" fill="#c0c0c0"/><rect x="124" y="772" width="3" height="1" fill="#c0c0c0"/><rect x="130" y="772" width="3" height="1" fill="#c0c0c0"/><rect x="136" y="772" width="3" height="1" fill="#c0c0c0"/><rect x="142" y="772" width="3" height="1" fill="#c0c0c0"/><rect x="148" y="772" width="3" height="1" fill="#c0c0c0"/><rect x="154" y="772" width="3" height="1" fill="#c0c0c0"/><rect x="160" y="772" width="3" height="1" fill="#c0c0c0"/><rect x="166" y="772" width="3" height="1" fill="#c0c0c0"/><rect x="172" y="772" width="3" height="1" fill="#c0c0c0"/><rect x="178" y="772" width="3" height="1" fill="#c0c0c0"/><rect x="184" y="772" width="3" height="1" fill="#c0c0c0"/><rect x="190" y="772" width="3" height="1" fill="#c0c0c0"/><rect x="196" y="772" width="3" height="1" fill="#c0c0c0"/><rect x="202" y="772" width="3" height="1" fill="#c0c0c0"/><rect x="208" y="772" width="3" height="1" fill="#c0c0c0"/><rect x="214" y="772" width="3" height="1" fill="#c0c0c0"/><rect x="220" y="772" width="3" height="1" fill="#c0c0c0"/><rect x="226" y="772" width="3" height="1" fill="#c0c0c0"/><rect x="232" y="772" width="3" height="1" fill="#c0c0c0"/><rect x="238" y="772" width="3" height="1" fill="#c0c0c0"/><rect x="244" y="772" width="3" height="1" fill="#c0c0c0"/><rect x="250" y="772" width="3" height="1" fill="#c0c0c0"/><rect x="256" y="772" width="3" height="1" fill="#c0c0c0"/><rect x="262" y="772" width="3" height="1" fill="#c0c0c0"/><rect x="268" y="772" width="3" height="1" fill="#c0c0c0"/><rect x="274" y="772" width="3" height="1" fill="#c0c0c0"/><rect x="280" y="772" width="3" height="1" fill="#c0c0c0"/><rect x="286" y="772" width="3" height="1" fill="#c0c0c0"/><rect x="292" y="772" width="3" height="1" fill="#c0c0c0"/><rect x="298" y="772" width="3" height="1" fill="#c0c0c0"/><rect x="304" y="772" width="3" height="1" fill="#c0c0c0"/><rect x="310" y="772" width="3" height="1" fill="#c0c0c0"/><rect x="316" y="772" width="3" height="1" fill="#c0c0c0"/><rect x="322" y="772" width="3" height="1" fill="#c0c0c0"/><rect x="328" y="772" width="3" height="1" fill="#c0c0c0"/><rect x="334" y="772" width="3" height="1" fill="#c0c0c0"/><rect x="340" y="772" width="3" height="1" fill="#c0c0c0"/><rect x="346" y="772" width="3" height="1" fill="#c0c0c0"/><rect x="352" y="772" width="3" height="1" fill="#c0c0c0"/><rect x="358" y="772" width="3" height="1" fill="#c0c0c0"/><rect x="364" y="772" width="3" height="1" fill="#c0c0c0"/><rect x="370" y="772" width="3" height="1" fill="#c0c0c0"/><rect x="376" y="772" width="3" height="1" fill="#c0c0c0"/><rect x="382" y="772" width="3" height="1" fill="#c0c0c0"/><rect x="388" y="772" width="3" height="1" fill="#c0c0c0"/><rect x="394" y="772" width="3" height="1" fill="#c0c0c0"/><rect x="400" y="772" width="3" height="1" fill="#c0c0c0"/><rect x="406" y="772" width="3" height="1" fill="#c0c0c0"/><rect x="412" y="772" width="3" height="1" fill="#c0c0c0"/><rect x="418" y="772" width="3" height="1" fill="#c0c0c0"/><rect x="424" y="772" width="3" height="1" fill="#c0c0c0"/><rect x="430" y="772" width="3" height="1" fill="#c0c0c0"/><rect x="436" y="772" width="3" height="1" fill="#c0c0c0"/><rect x="442" y="772" width="3" height="1" fill="#c0c0c0"/><rect x="448" y="772" width="3" height="1" fill="#c0c0c0"/><rect x="454" y="772" width="3" height="1" fill="#c0c0c0"/><rect x="460" y="772" width="3" height="1" fill="#c0c0c0"/><rect x="466" y="772" width="3" height="1" fill="#c0c0c0"/><rect x="472" y="772" width="3" height="1" fill="#c0c0c0"/><rect x="478" y="772" width="3" height="1" fill="#c0c0c0"/><rect x="484" y="772" width="3" height="1" fill="#c0c0c0"/><rect x="490" y="772" width="3" height="1" fill="#c0c0c0"/><rect x="496" y="772" width="3" height="1" fill="#c0c0c0"/><rect x="502" y="772" width="3" height="1" fill="#c0c0c0"/><rect x="508" y="772" width="3" height="1" fill="#c0c0c0"/><rect x="514" y="772" width="3" height="1" fill="#c0c0c0"/><rect x="520" y="772" width="3" height="1" fill="#c0c0c0"/><rect x="526" y="772" width="3" height="1" fill="#c0c0c0"/><rect x="532" y="772" width="3" height="1" fill="#c0c0c0"/><rect x="538" y="772" width="3" height="1" fill="#c0c0c0"/><rect x="544" y="772" width="3" height="1" fill="#c0c0c0"/><rect x="550" y="772" width="3" height="1" fill="#c0c0c0"/><rect x="556" y="772" width="3" height="1" fill="#c0c0c0"/><rect x="562" y="772" width="3" height="1" fill="#c0c0c0"/><rect x="568" y="772" width="3" height="1" fill="#c0c0c0"/><rect x="574" y="772" width="3" height="1" fill="#c0c0c0"/><rect x="580" y="772" width="3" height="1" fill="#c0c0c0"/><rect x="586" y="772" width="3" height="1" fill="#c0c0c0"/><rect x="592" y="772" width="3" height="1" fill="#c0c0c0"/><rect x="598" y="772" width="3" height="1" fill="#c0c0c0"/><rect x="604" y="772" width="3" height="1" fill="#c0c0c0"/><rect x="610" y="772" width="3" height="1" fill="#c0c0c0"/><rect x="616" y="772" width="3" height="1" fill="#c0c0c0"/><rect x="622" y="772" width="3" height="1" fill="#c0c0c0"/><rect x="628" y="772" width="3" height="1" fill="#c0c0c0"/><rect x="634" y="772" width="3" height="1" fill="#c0c0c0"/><rect x="640" y="772" width="3" height="1" fill="#c0c0c0"/><rect x="646" y="772" width="3" height="1" fill="#c0c0c0"/><rect x="652" y="772" width="3" height="1" fill="#c0c0c0"/><rect x="658" y="772" width="3" height="1" fill="#c0c0c0"/><rect x="664" y="772" width="3" height="1" fill="#c0c0c0"/><rect x="670" y="772" width="3" height="1" fill="#c0c0c0"/><rect x="676" y="772" width="3" height="1" fill="#c0c0c0"/><rect x="682" y="772" width="3" height="1" fill="#c0c0c0"/><rect x="688" y="772" width="3" height="1" fill="#c0c0c0"/><rect x="694" y="772" width="3" height="1" fill="#c0c0c0"/><rect x="700" y="772" width="3" height="1" fill="#c0c0c0"/><rect x="706" y="772" width="3" height="1" fill="#c0c0c0"/><rect x="712" y="772" width="3" height="1" fill="#c0c0c0"/><rect x="718" y="772" width="3" height="1" fill="#c0c0c0"/><rect x="724" y="772" width="3" height="1" fill="#c0c0c0"/><rect x="730" y="772" width="3" height="1" fill="#c0c0c0"/><rect x="736" y="772" width="3" height="1" fill="#c0c0c0"/><rect x="742" y="772" width="3" height="1" fill="#c0c0c0"/><rect x="748" y="772" width="3" height="1" fill="#c0c0c0"/><rect x="754" y="772" width="3" height="1" fill="#c0c0c0"/><rect x="760" y="772" width="3" height="1" fill="#c0c0c0"/><rect x="766" y="772" width="3" height="1" fill="#c0c0c0"/><rect x="772" y="772" width="3" height="1" fill="#c0c0c0"/><rect x="778" y="772" width="3" height="1" fill="#c0c0c0"/><rect x="784" y="772" width="3" height="1" fill="#c0c0c0"/><rect x="790" y="772" width="3" height="1" fill="#c0c0c0"/><rect x="796" y="772" width="3" height="1" fill="#c0c0c0"/><rect x="802" y="772" width="3" height="1" fill="#c0c0c0"/><rect x="808" y="772" width="3" height="1" fill="#c0c0c0"/><rect x="814" y="772" width="3" height="1" fill="#c0c0c0"/><rect x="820" y="772" width="3" height="1" fill="#c0c0c0"/><rect x="826" y="772" width="3" height="1" fill="#c0c0c0"/><rect x="832" y="772" width="3" height="1" fill="#c0c0c0"/><rect x="838" y="772" width="3" height="1" fill="#c0c0c0"/><rect x="844" y="772" width="3" height="1" fill="#c0c0c0"/><rect x="850" y="772" width="3" height="1" fill="#c0c0c0"/><rect x="856" y="772" width="3" height="1" fill="#c0c0c0"/><rect x="862" y="772" width="3" height="1" fill="#c0c0c0"/><rect x="868" y="772" width="3" height="1" fill="#c0c0c0"/><rect x="874" y="772" width="3" height="1" fill="#c0c0c0"/><rect x="880" y="772" width="3" height="1" fill="#c0c0c0"/><rect x="886" y="772" width="3" height="1" fill="#c0c0c0"/><rect x="892" y="772" width="3" height="1" fill="#c0c0c0"/><rect x="898" y="772" width="3" height="1" fill="#c0c0c0"/><rect x="904" y="772" width="3" height="1" fill="#c0c0c0"/><rect x="910" y="772" width="3" height="1" fill="#c0c0c0"/><rect x="916" y="772" width="3" height="1" fill="#c0c0c0"/><rect x="922" y="772" width="3" height="1" fill="#c0c0c0"/><rect x="928" y="772" width="3" height="1" fill="#c0c0c0"/><rect x="934" y="772" width="3" height="1" fill="#c0c0c0"/><rect x="940" y="772" width="3" height="1" fill="#c0c0c0"/><rect x="946" y="772" width="3" height="1" fill="#c0c0c0"/><rect x="952" y="772" width="3" height="1" fill="#c0c0c0"/><rect x="958" y="772" width="3" height="1" fill="#c0c0c0"/><rect x="964" y="772" width="3" height="1" fill="#c0c0c0"/><rect x="970" y="772" width="3" height="1" fill="#c0c0c0"/><rect x="976" y="772" width="3" height="1" fill="#c0c0c0"/><rect x="982" y="772" width="3" height="1" fill="#c0c0c0"/><rect x="988" y="772" width="3" height="1" fill="#c0c0c0"/><rect x="994" y="772" width="3" height="1" fill="#c0c0c0"/><rect x="1000" y="772" width="3" height="1" fill="#c0c0c0"/><rect x="1006" y="772" width="3" height="1" fill="#c0c0c0"/><rect x="1012" y="772" width="3" height="1" fill="#c0c0c0"/><rect x="1018" y="772" width="3" height="1" fill="#c0c0c0"/><rect x="1024" y="772" width="3" height="1" fill="#c0c0c0"/><rect x="1030" y="772" width="3" height="1" fill="#c0c0c0"/><rect x="1036" y="772" width="3" height="1" fill="#c0c0c0"/><rect x="1042" y="772" width="3" height="1" fill="#c0c0c0"/><rect x="1048" y="772" width="3" height="1" fill="#c0c0c0"/><rect x="1054" y="772" width="3" height="1" fill="#c0c0c0"/><rect x="1060" y="772" width="3" height="1" fill="#c0c0c0"/><rect x="1066" y="772" width="3" height="1" fill="#c0c0c0"/><rect x="1072" y="772" width="3" height="1" fill="#c0c0c0"/><rect x="1078" y="772" width="3" height="1" fill="#c0c0c0"/><rect x="1084" y="772" width="3" height="1" fill="#c0c0c0"/><rect x="1090" y="772" width="3" height="1" fill="#c0c0c0"/><rect x="1096" y="772" width="3" height="1" fill="#c0c0c0"/><rect x="1102" y="772" width="3" height="1" fill="#c0c0c0"/><rect x="1108" y="772" width="3" height="1" fill="#c0c0c0"/><rect x="1114" y="772" width="3" height="1" fill="#c0c0c0"/><rect x="1120" y="772" width="3" height="1" fill="#c0c0c0"/><rect x="1126" y="772" width="3" height="1" fill="#c0c0c0"/><rect x="1132" y="772" width="3" height="1" fill="#c0c0c0"/><rect x="1138" y="772" width="3" height="1" fill="#c0c0c0"/><rect x="1144" y="772" width="3" height="1" fill="#c0c0c0"/><rect x="1150" y="772" width="3" height="1" fill="#c0c0c0"/><rect x="1156" y="772" width="3" height="1" fill="#c0c0c0"/><rect x="1162" y="772" width="3" height="1" fill="#c0c0c0"/><rect x="1168" y="772" width="3" height="1" fill="#c0c0c0"/><rect x="1174" y="772" width="3" height="1" fill="#c0c0c0"/><rect x="1180" y="772" width="3" height="1" fill="#c0c0c0"/><rect x="1186" y="772" width="3" height="1" fill="#c0c0c0"/><rect x="1192" y="772" width="3" height="1" fill="#c0c0c0"/><rect x="1198" y="772" width="3" height="1" fill="#c0c0c0"/><rect x="1204" y="772" width="3" height="1" fill="#c0c0c0"/><rect x="1210" y="772" width="3" height="1" fill="#c0c0c0"/><rect x="1216" y="772" width="3" height="1" fill="#c0c0c0"/><rect x="1222" y="772" width="3" height="1" fill="#c0c0c0"/><rect x="1228" y="772" width="3" height="1" fill="#c0c0c0"/><rect x="1234" y="772" width="3" height="1" fill="#c0c0c0"/><rect x="1240" y="772" width="3" height="1" fill="#c0c0c0"/><rect x="1246" y="772" width="3" height="1" fill="#c0c0c0"/><rect x="1252" y="772" width="3" height="1" fill="#c0c0c0"/><rect x="1258" y="772" width="3" height="1" fill="#c0c0c0"/><rect x="1264" y="772" width="3" height="1" fill="#c0c0c0"/><rect x="1270" y="772" width="3" height="1" fill="#c0c0c0"/><rect x="1276" y="772" width="3" height="1" fill="#c0c0c0"/><rect x="1282" y="772" width="3" height="1" fill="#c0c0c0"/><rect x="1288" y="772" width="3" height="1" fill="#c0c0c0"/><rect x="1294" y="772" width="3" height="1" fill="#c0c0c0"/><rect x="1300" y="772" width="3" height="1" fill="#c0c0c0"/><rect x="1306" y="772" width="3" height="1" fill="#c0c0c0"/><rect x="1312" y="772" width="3" height="1" fill="#c0c0c0"/><rect x="1318" y="772" width="3" height="1" fill="#c0c0c0"/><rect x="1324" y="772" width="3" height="1" fill="#c0c0c0"/><rect x="1330" y="772" width="3" height="1" fill="#c0c0c0"/><rect x="1336" y="772" width="3" height="1" fill="#c0c0c0"/><rect x="1342" y="772" width="3" height="1" fill="#c0c0c0"/><rect x="1348" y="772" width="3" height="1" fill="#c0c0c0"/><rect x="1354" y="772" width="3" height="1" fill="#c0c0c0"/><rect x="1360" y="772" width="3" height="1" fill="#c0c0c0"/><rect x="1366" y="772" width="3" height="1" fill="#c0c0c0"/><rect x="1372" y="772" width="3" height="1" fill="#c0c0c0"/><rect x="1378" y="772" width="3" height="1" fill="#c0c0c0"/><rect x="1384" y="772" width="3" height="1" fill="#c0c0c0"/><rect x="1390" y="772" width="3" height="1" fill="#c0c0c0"/><rect x="1396" y="772" width="3" height="1" fill="#c0c0c0"/><rect x="1402" y="772" width="3" height="1" fill="#c0c0c0"/><rect x="1408" y="772" width="3" height="1" fill="#c0c0c0"/><rect x="1414" y="772" width="3" height="1" fill="#c0c0c0"/><rect x="1420" y="772" width="3" height="1" fill="#c0c0c0"/><rect x="1426" y="772" width="3" height="1" fill="#c0c0c0"/><rect x="1432" y="772" width="3" height="1" fill="#c0c0c0"/><rect x="1438" y="772" width="3" height="1" fill="#c0c0c0"/><rect x="1444" y="772" width="3" height="1" fill="#c0c0c0"/><rect x="1450" y="772" width="3" height="1" fill="#c0c0c0"/><rect x="1456" y="772" width="3" height="1" fill="#c0c0c0"/><rect x="1462" y="772" width="3" height="1" fill="#c0c0c0"/><rect x="1468" y="772" width="3" height="1" fill="#c0c0c0"/><rect x="1474" y="772" width="3" height="1" fill="#c0c0c0"/><rect x="1480" y="772" width="3" height="1" fill="#c0c0c0"/><rect x="1486" y="772" width="3" height="1" fill="#c0c0c0"/><rect x="1492" y="772" width="3" height="1" fill="#c0c0c0"/><rect x="1498" y="772" width="3" height="1" fill="#c0c0c0"/><rect x="1504" y="772" width="3" height="1" fill="#c0c0c0"/><rect x="1510" y="772" width="3" height="1" fill="#c0c0c0"/><rect x="1516" y="772" width="3" height="1" fill="#c0c0c0"/><rect x="1522" y="772" width="3" height="1" fill="#c0c0c0"/><rect x="1528" y="772" width="3" height="1" fill="#c0c0c0"/><rect x="1534" y="772" width="3" height="1" fill="#c0c0c0"/><rect x="1540" y="772" width="3" height="1" fill="#c0c0c0"/><rect x="1546" y="772" width="3" height="1" fill="#c0c0c0"/><rect x="1552" y="772" width="3" height="1" fill="#c0c0c0"/><rect x="1558" y="772" width="3" height="1" fill="#c0c0c0"/><rect x="1564" y="772" width="3" height="1" fill="#c0c0c0"/><rect x="1570" y="772" width="3" height="1" fill="#c0c0c0"/><rect x="1576" y="772" width="3" height="1" fill="#c0c0c0"/><rect x="1582" y="772" width="3" height="1" fill="#c0c0c0"/><rect x="1588" y="772" width="3" height="1" fill="#c0c0c0"/><rect x="1594" y="772" width="3" height="1" fill="#c0c0c0"/><rect x="1600" y="772" width="3" height="1" fill="#c0c0c0"/><rect x="1606" y="772" width="3" height="1" fill="#c0c0c0"/><rect x="1612" y="772" width="3" height="1" fill="#c0c0c0"/><rect x="1618" y="772" width="3" height="1" fill="#c0c0c0"/><rect x="1624" y="772" width="3" height="1" fill="#c0c0c0"/><rect x="1630" y="772" width="3" height="1" fill="#c0c0c0"/><rect x="1636" y="772" width="3" height="1" fill="#c0c0c0"/><rect x="1642" y="772" width="3" height="1" fill="#c0c0c0"/><rect x="1648" y="772" width="3" height="1" fill="#c0c0c0"/><rect x="1654" y="772" width="3" height="1" fill="#c0c0c0"/><rect x="1660" y="772" width="3" height="1" fill="#c0c0c0"/><rect x="1666" y="772" width="3" height="1" fill="#c0c0c0"/><rect x="1672" y="772" width="3" height="1" fill="#c0c0c0"/><rect x="1678" y="772" width="3" height="1" fill="#c0c0c0"/><rect x="1684" y="772" width="3" height="1" fill="#c0c0c0"/><polyline points="3.5,738.8 11.5,735.3 19.5,737.3 27.5,742.0 35.5,727.5 43.5,723.8 51.5,725.8 59.5,722.1 67.5,732.0 75.5,735.4 83.5,731.1 91.5,729.9 99.5,732.0 107.5,724.8 115.5,723.7 123.5,722.6 131.5,720.9 139.5,727.7 147.5,726.7 155.5,729.2 163.5,724.4 171.5,737.7 179.5,731.3 187.5,728.6 195.5,741.2 203.5,739.4 211.5,745.9 219.5,736.9 227.5,735.8 235.5,735.4 243.5,732.7 251.5,738.2 259.5,739.5 267.5,739.0 275.5,756.5 283.5,759.3 291.5,761.3 299.5,765.2 307.5,755.2 315.5,752.6 323.5,747.3 331.5,743.9 339.5,744.8 347.5,745.2 355.5,752.5 363.5,737.1 371.5,745.8 379.5,743.9 387.5,744.3 395.5,739.6 403.5,732.4 411.5,717.7 419.5,731.0 427.5,733.1 435.5,731.9 443.5,728.0 451.5,729.9 459.5,737.5 467.5,729.0 475.5,725.4 483.5,728.9 491.5,728.5 499.5,729.5 507.5,727.7 515.5,723.7 523.5,716.7 531.5,714.7 539.5,709.6 547.5,706.6 555.5,729.1 563.5,760.3 571.5,756.6 579.5,755.5 587.5,760.1 595.5,751.9 603.5,743.5 611.5,767.0 619.5,765.0 627.5,762.0 635.5,760.6 643.5,766.2 651.5,763.3 659.5,753.2 667.5,747.2 675.5,746.4 683.5,749.5 691.5,745.2 699.5,741.7 707.5,733.8 715.5,733.3 723.5,732.6 731.5,733.5 739.5,736.6 747.5,744.4 755.5,747.6 763.5,739.7 771.5,738.5 779.5,739.8 787.5,737.6 795.5,733.3 803.5,735.9 811.5,728.1 819.5,723.5 827.5,726.4 835.5,728.5 843.5,727.5 851.5,726.9 859.5,749.0 867.5,757.5 875.5,756.4 883.5,760.8 891.5,765.6 899.5,766.5 907.5,753.4 915.5,765.3 923.5,764.9 931.5,762.1 939.5,761.4 947.5,759.6 955.5,755.3 963.5,761.5 971.5,762.9 979.5,764.0 987.5,767.5 995.5,769.7 1003.5,782.8 1011.5,791.1 1019.5,794.6 1027.5,790.0 1035.5,790.2 1043.5,776.8 1051.5,781.3 1059.5,768.8 1067.5,767.5 1075.5,773.8 1083.5,770.2 1091.5,758.5 1099.5,752.2 1107.5,734.3 1115.5,735.5 1123.5,735.0 1131.5,738.2 1139.5,736.5 1147.5,729.7 1155.5,728.3 1163.5,724.0 1171.5,723.3 1179.5,725.5 1187.5,724.1 1195.5,723.7 1203.5,723.3 1211.5,720.2 1219.5,719.6 1227.5,717.2 1235.5,730.8 1243.5,736.7 1251.5,729.7 1259.5,728.4 1267.5,720.6 1275.5,720.0 1283.5,719.6 1291.5,727.3 1299.5,725.0 1307.5,731.3 1315.5,729.0 1323.5,739.5 1331.5,742.8 1339.5,741.4 1347.5,740.2 1355.5,743.9 1363.5,740.3 1371.5,736.4 1379.5,731.6 1387.5,731.6 1395.5,724.5 1403.5,721.1 1411.5,728.7 1419.5,733.0 1427.5,729.3 1435.5,727.4 1443.5,721.7 1451.5,726.9 1459.5,727.9 1467.5,727.2 1475.5,742.4 1483.5,743.6 1491.5,741.8 1499.5,772.2 1507.5,761.3 1515.5,758.1 1523.5,761.6 1531.5,760.2 1539.5,758.9 1547.5,765.0 1555.5,765.7 1563.5,768.2 1571.5,764.2 1579.5,759.1 1587.5,774.6 1595.5,781.0 1603.5,782.7 1611.5,778.7 1619.5,771.9 1627.5,774.3 1635.5,775.3 1643.5,758.4 1651.5,755.0 1659.5,756.9 1667.5,756.5" fill="none" stroke="#1e90ff" stroke-width="1" stroke-linejoin="bevel" /></g></svg></body></html>
